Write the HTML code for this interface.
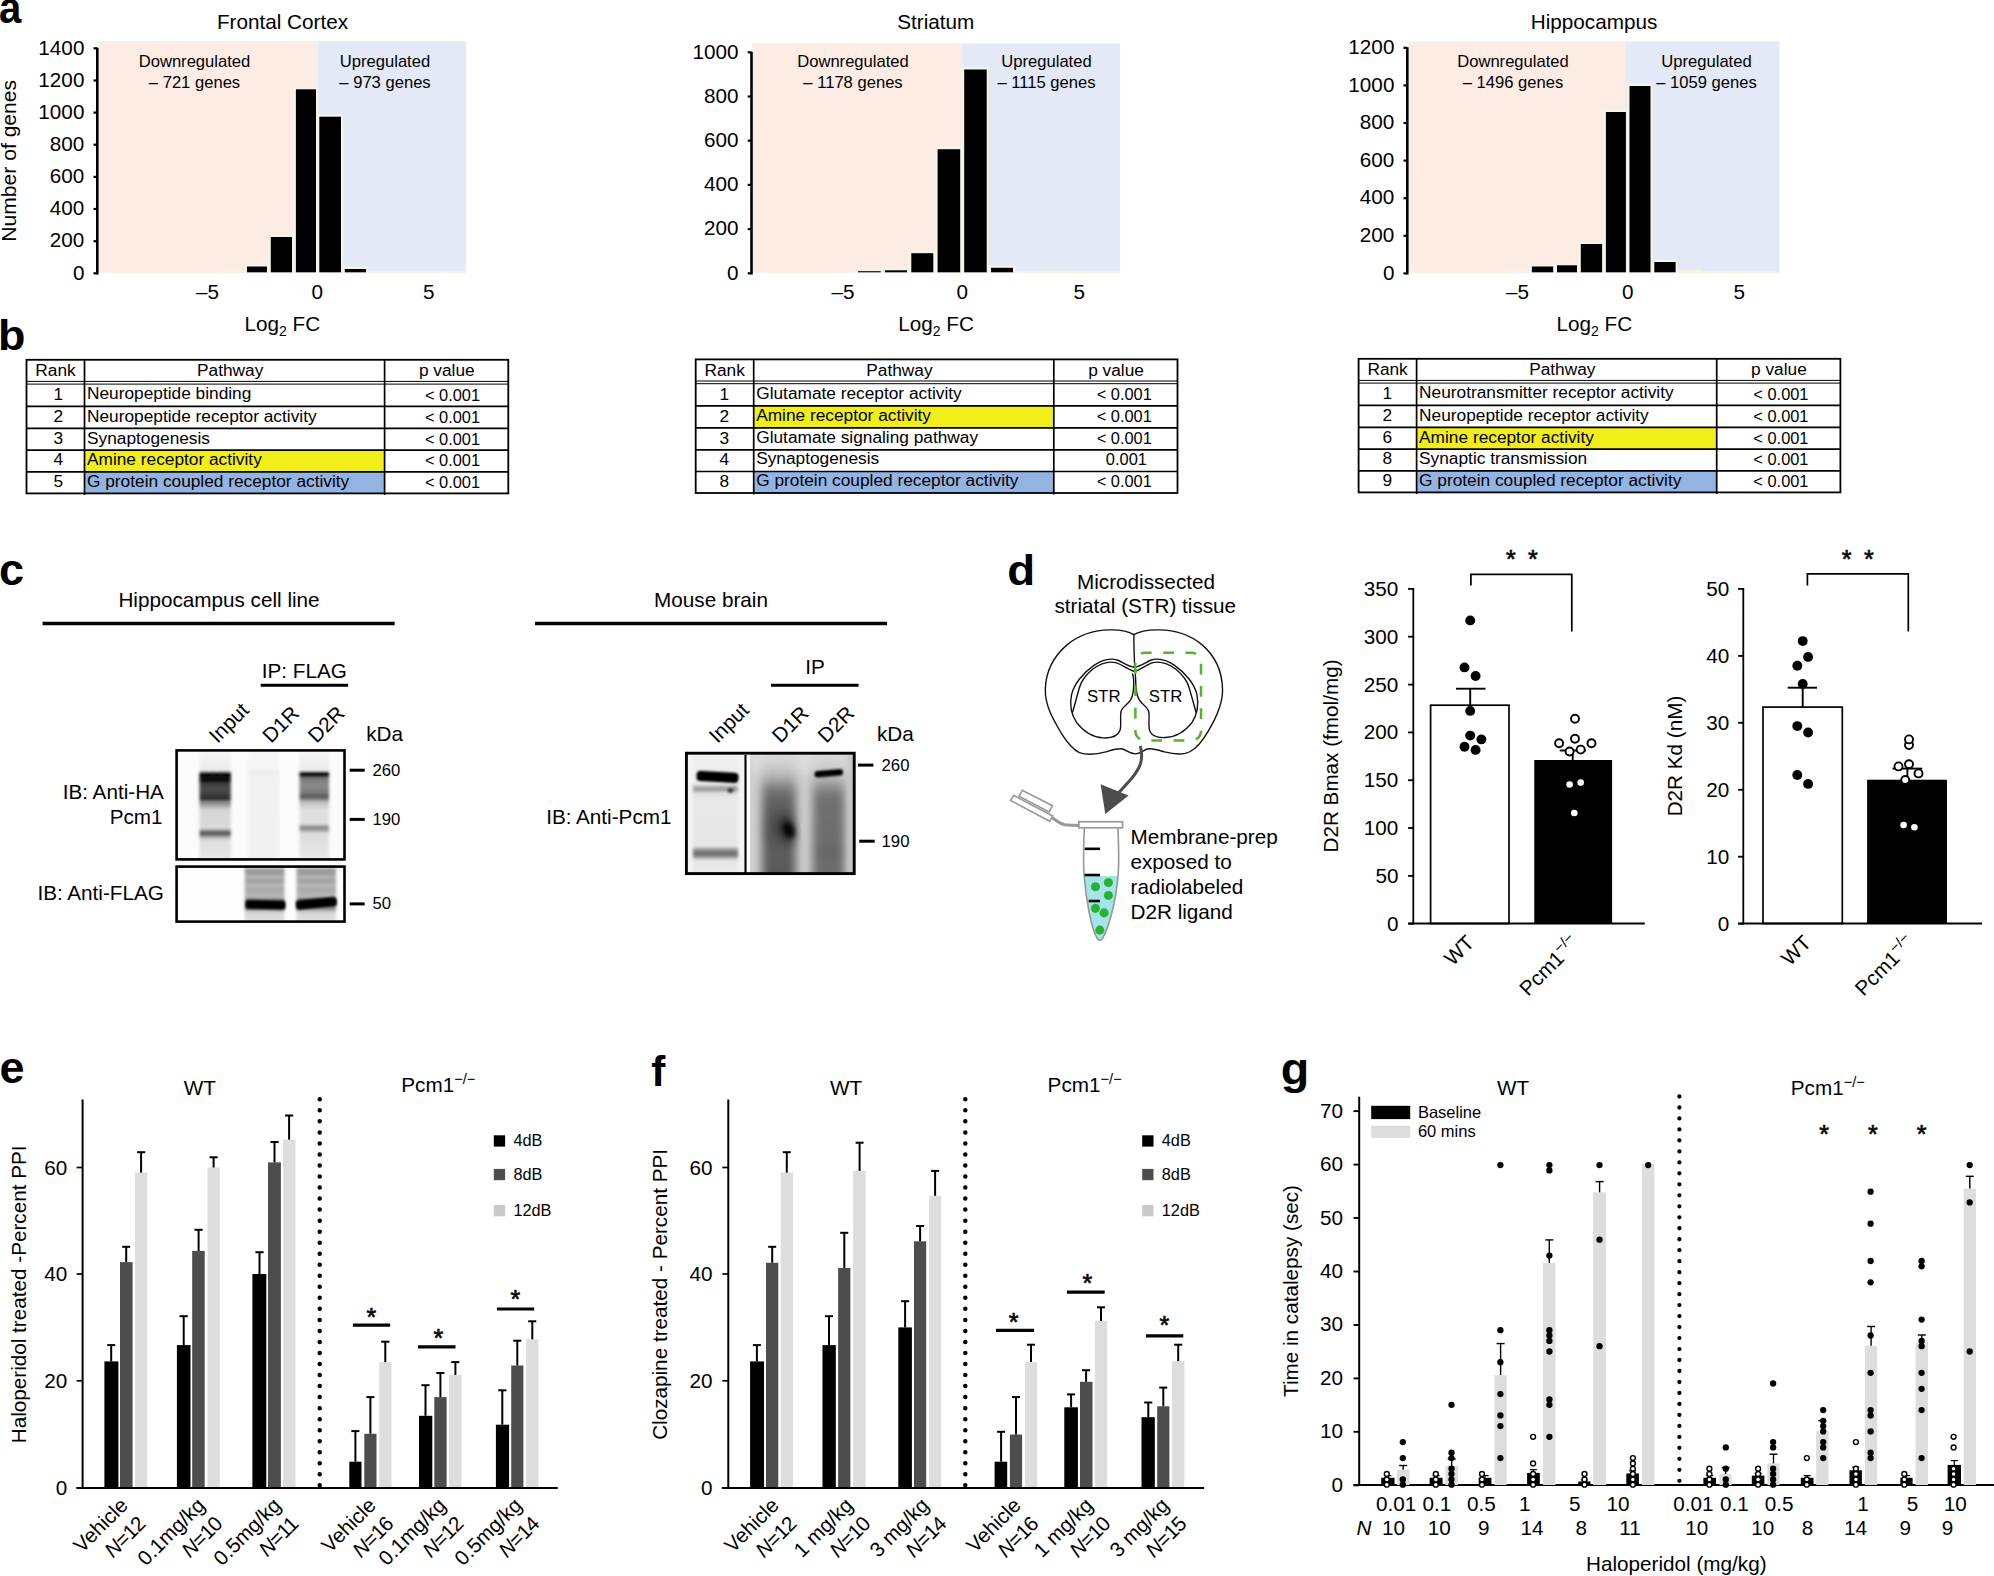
<!DOCTYPE html>
<html><head><meta charset="utf-8"><title>Figure</title>
<style>
html,body{margin:0;padding:0;background:#fff;}
svg{display:block;}
text{font-family:"Liberation Sans",sans-serif;fill:#000;}
</style></head><body>
<svg width="1994" height="1576" viewBox="0 0 1994 1576">
<defs>
<filter id="b1" x="-50%" y="-50%" width="200%" height="200%"><feGaussianBlur stdDeviation="1.2"/></filter>
<filter id="b15" x="-50%" y="-50%" width="200%" height="200%"><feGaussianBlur stdDeviation="1.7 0.9"/></filter>
<filter id="b2" x="-50%" y="-50%" width="200%" height="200%"><feGaussianBlur stdDeviation="2.5"/></filter>
<filter id="b3" x="-50%" y="-50%" width="200%" height="200%"><feGaussianBlur stdDeviation="5"/></filter>
</defs>
<text transform="translate(-1.0,22.8) scale(0.89,1)" font-size="45" font-weight="bold">a</text>
<text transform="translate(-1.9,349.6) scale(1.06,1)" font-size="42.3" font-weight="bold">b</text>
<text transform="translate(-1.1,585.0) scale(1.0,1)" font-size="45" font-weight="bold">c</text>
<text transform="translate(1007.2,585.0) scale(1.08,1)" font-size="42.3" font-weight="bold">d</text>
<text transform="translate(-0.4,1083.0) scale(1.0,1)" font-size="45" font-weight="bold">e</text>
<text transform="translate(651.2,1085.5) scale(1.0,1)" font-size="42.3" font-weight="bold">f</text>
<text transform="translate(1280.7,1083.5) scale(1.06,1)" font-size="44" font-weight="bold">g</text>
<rect x="98.3" y="41.0" width="219.4" height="231.5" fill="#fdece4"/>
<rect x="317.7" y="41.0" width="148.2" height="231.5" fill="#e3e9f7"/>
<rect x="98.3" y="271.3" width="367.6" height="1.9" fill="#f4f4e8"/>
<text x="282.5" y="28.8" font-size="20.7" text-anchor="middle">Frontal Cortex</text>
<line x1="97.3" y1="47.8" x2="97.3" y2="274.5" stroke="#000" stroke-width="2.6"/>
<line x1="93.5" y1="273.3" x2="97.3" y2="273.3" stroke="#000" stroke-width="2.2"/>
<text x="84.4" y="279.5" font-size="20.7" text-anchor="end">0</text>
<line x1="93.5" y1="241.2" x2="97.3" y2="241.2" stroke="#000" stroke-width="2.2"/>
<text x="84.4" y="247.4" font-size="20.7" text-anchor="end">200</text>
<line x1="93.5" y1="209.0" x2="97.3" y2="209.0" stroke="#000" stroke-width="2.2"/>
<text x="84.4" y="215.2" font-size="20.7" text-anchor="end">400</text>
<line x1="93.5" y1="176.9" x2="97.3" y2="176.9" stroke="#000" stroke-width="2.2"/>
<text x="84.4" y="183.1" font-size="20.7" text-anchor="end">600</text>
<line x1="93.5" y1="144.7" x2="97.3" y2="144.7" stroke="#000" stroke-width="2.2"/>
<text x="84.4" y="150.9" font-size="20.7" text-anchor="end">800</text>
<line x1="93.5" y1="112.6" x2="97.3" y2="112.6" stroke="#000" stroke-width="2.2"/>
<text x="84.4" y="118.8" font-size="20.7" text-anchor="end">1000</text>
<line x1="93.5" y1="80.5" x2="97.3" y2="80.5" stroke="#000" stroke-width="2.2"/>
<text x="84.4" y="86.7" font-size="20.7" text-anchor="end">1200</text>
<line x1="93.5" y1="48.3" x2="97.3" y2="48.3" stroke="#000" stroke-width="2.2"/>
<text x="84.4" y="54.5" font-size="20.7" text-anchor="end">1400</text>
<rect x="244.8" y="264.3" width="24.4" height="8.9" fill="#f4f4e8"/>
<rect x="268.6" y="234.8" width="25.6" height="38.4" fill="#f4f4e8"/>
<rect x="293.7" y="87.1" width="24.5" height="186.1" fill="#f4f4e8"/>
<rect x="317.1" y="114.5" width="26.1" height="158.7" fill="#f4f4e8"/>
<rect x="342.6" y="266.8" width="25.6" height="6.4" fill="#f4f4e8"/>
<rect x="247.0" y="266.5" width="20.0" height="5.8" fill="#000"/>
<rect x="270.8" y="237.0" width="21.2" height="35.3" fill="#000"/>
<rect x="295.9" y="89.3" width="20.1" height="183.0" fill="#000"/>
<rect x="319.3" y="116.7" width="21.7" height="155.6" fill="#000"/>
<rect x="344.8" y="269.0" width="21.2" height="3.3" fill="#000"/>
<text x="207.5" y="299.2" font-size="20.7" text-anchor="middle">–5</text>
<text x="317.2" y="299.2" font-size="20.7" text-anchor="middle">0</text>
<text x="428.8" y="299.2" font-size="20.7" text-anchor="middle">5</text>
<text x="244.5" y="330.5" font-size="20.7">Log<tspan font-size="14" dy="5">2</tspan><tspan dy="-5"> FC</tspan></text>
<text x="194.5" y="67.2" font-size="16.6" text-anchor="middle">Downregulated</text>
<text x="194.5" y="87.8" font-size="16.6" text-anchor="middle">– 721 genes</text>
<text x="385.0" y="67.2" font-size="16.6" text-anchor="middle">Upregulated</text>
<text x="385.0" y="87.8" font-size="16.6" text-anchor="middle">– 973 genes</text>
<rect x="752.3" y="43.4" width="209.9" height="229.1" fill="#fdece4"/>
<rect x="962.2" y="43.4" width="157.9" height="229.1" fill="#e3e9f7"/>
<rect x="752.3" y="271.3" width="367.8" height="1.9" fill="#f4f4e8"/>
<text x="935.8" y="28.8" font-size="20.7" text-anchor="middle">Striatum</text>
<line x1="751.5" y1="51.8" x2="751.5" y2="274.5" stroke="#000" stroke-width="2.6"/>
<line x1="747.7" y1="273.3" x2="751.5" y2="273.3" stroke="#000" stroke-width="2.2"/>
<text x="738.6" y="279.5" font-size="20.7" text-anchor="end">0</text>
<line x1="747.7" y1="229.1" x2="751.5" y2="229.1" stroke="#000" stroke-width="2.2"/>
<text x="738.6" y="235.3" font-size="20.7" text-anchor="end">200</text>
<line x1="747.7" y1="184.9" x2="751.5" y2="184.9" stroke="#000" stroke-width="2.2"/>
<text x="738.6" y="191.1" font-size="20.7" text-anchor="end">400</text>
<line x1="747.7" y1="140.7" x2="751.5" y2="140.7" stroke="#000" stroke-width="2.2"/>
<text x="738.6" y="146.9" font-size="20.7" text-anchor="end">600</text>
<line x1="747.7" y1="96.5" x2="751.5" y2="96.5" stroke="#000" stroke-width="2.2"/>
<text x="738.6" y="102.7" font-size="20.7" text-anchor="end">800</text>
<line x1="747.7" y1="52.3" x2="751.5" y2="52.3" stroke="#000" stroke-width="2.2"/>
<text x="738.6" y="58.5" font-size="20.7" text-anchor="end">1000</text>
<rect x="855.8" y="269.0" width="27.1" height="4.2" fill="#f4f4e8"/>
<rect x="882.7" y="268.1" width="26.5" height="5.1" fill="#f4f4e8"/>
<rect x="909.1" y="251.0" width="26.4" height="22.2" fill="#f4f4e8"/>
<rect x="935.4" y="147.0" width="27.0" height="126.2" fill="#f4f4e8"/>
<rect x="962.0" y="67.3" width="26.9" height="205.9" fill="#f4f4e8"/>
<rect x="988.8" y="265.6" width="26.4" height="7.6" fill="#f4f4e8"/>
<rect x="858.0" y="271.2" width="22.7" height="1.1" fill="#000"/>
<rect x="884.9" y="270.3" width="22.1" height="2.0" fill="#000"/>
<rect x="911.3" y="253.2" width="22.0" height="19.1" fill="#000"/>
<rect x="937.6" y="149.2" width="22.6" height="123.1" fill="#000"/>
<rect x="964.2" y="69.5" width="22.5" height="202.8" fill="#000"/>
<rect x="991.0" y="267.8" width="22.0" height="4.5" fill="#000"/>
<text x="843.0" y="299.2" font-size="20.7" text-anchor="middle">–5</text>
<text x="962.2" y="299.2" font-size="20.7" text-anchor="middle">0</text>
<text x="1079.3" y="299.2" font-size="20.7" text-anchor="middle">5</text>
<text x="898.2" y="330.5" font-size="20.7">Log<tspan font-size="14" dy="5">2</tspan><tspan dy="-5"> FC</tspan></text>
<text x="853.0" y="67.2" font-size="16.6" text-anchor="middle">Downregulated</text>
<text x="853.0" y="87.8" font-size="16.6" text-anchor="middle">– 1178 genes</text>
<text x="1046.5" y="67.2" font-size="16.6" text-anchor="middle">Upregulated</text>
<text x="1046.5" y="87.8" font-size="16.6" text-anchor="middle">– 1115 genes</text>
<rect x="1408.3" y="41.4" width="217.1" height="231.1" fill="#fdece4"/>
<rect x="1625.4" y="41.4" width="154.2" height="231.1" fill="#e3e9f7"/>
<rect x="1408.3" y="271.3" width="371.3" height="1.9" fill="#f4f4e8"/>
<text x="1594.0" y="28.8" font-size="20.7" text-anchor="middle">Hippocampus</text>
<line x1="1407.3" y1="47.3" x2="1407.3" y2="274.5" stroke="#000" stroke-width="2.6"/>
<line x1="1403.5" y1="273.4" x2="1407.3" y2="273.4" stroke="#000" stroke-width="2.2"/>
<text x="1394.4" y="279.6" font-size="20.7" text-anchor="end">0</text>
<line x1="1403.5" y1="235.8" x2="1407.3" y2="235.8" stroke="#000" stroke-width="2.2"/>
<text x="1394.4" y="242.0" font-size="20.7" text-anchor="end">200</text>
<line x1="1403.5" y1="198.2" x2="1407.3" y2="198.2" stroke="#000" stroke-width="2.2"/>
<text x="1394.4" y="204.4" font-size="20.7" text-anchor="end">400</text>
<line x1="1403.5" y1="160.6" x2="1407.3" y2="160.6" stroke="#000" stroke-width="2.2"/>
<text x="1394.4" y="166.8" font-size="20.7" text-anchor="end">600</text>
<line x1="1403.5" y1="123.0" x2="1407.3" y2="123.0" stroke="#000" stroke-width="2.2"/>
<text x="1394.4" y="129.2" font-size="20.7" text-anchor="end">800</text>
<line x1="1403.5" y1="85.4" x2="1407.3" y2="85.4" stroke="#000" stroke-width="2.2"/>
<text x="1394.4" y="91.6" font-size="20.7" text-anchor="end">1000</text>
<line x1="1403.5" y1="47.8" x2="1407.3" y2="47.8" stroke="#000" stroke-width="2.2"/>
<text x="1394.4" y="54.0" font-size="20.7" text-anchor="end">1200</text>
<rect x="1529.7" y="264.3" width="25.7" height="8.9" fill="#f4f4e8"/>
<rect x="1554.8" y="263.1" width="24.4" height="10.1" fill="#f4f4e8"/>
<rect x="1578.6" y="241.8" width="25.7" height="31.4" fill="#f4f4e8"/>
<rect x="1603.7" y="109.8" width="24.4" height="163.4" fill="#f4f4e8"/>
<rect x="1627.3" y="83.8" width="25.4" height="189.4" fill="#f4f4e8"/>
<rect x="1652.1" y="259.8" width="25.7" height="13.4" fill="#f4f4e8"/>
<rect x="1531.9" y="266.5" width="21.3" height="5.8" fill="#000"/>
<rect x="1557.0" y="265.3" width="20.0" height="7.0" fill="#000"/>
<rect x="1580.8" y="244.0" width="21.3" height="28.3" fill="#000"/>
<rect x="1605.9" y="112.0" width="20.0" height="160.3" fill="#000"/>
<rect x="1629.5" y="86.0" width="21.0" height="186.3" fill="#000"/>
<rect x="1654.3" y="262.0" width="21.3" height="10.3" fill="#000"/>
<text x="1517.6" y="299.2" font-size="20.7" text-anchor="middle">–5</text>
<text x="1627.7" y="299.2" font-size="20.7" text-anchor="middle">0</text>
<text x="1739.3" y="299.2" font-size="20.7" text-anchor="middle">5</text>
<text x="1556.5" y="330.5" font-size="20.7">Log<tspan font-size="14" dy="5">2</tspan><tspan dy="-5"> FC</tspan></text>
<text x="1513.0" y="67.2" font-size="16.6" text-anchor="middle">Downregulated</text>
<text x="1513.0" y="87.8" font-size="16.6" text-anchor="middle">– 1496 genes</text>
<text x="1706.5" y="67.2" font-size="16.6" text-anchor="middle">Upregulated</text>
<text x="1706.5" y="87.8" font-size="16.6" text-anchor="middle">– 1059 genes</text>
<rect x="218.0" y="270.8" width="26.5" height="2.4" fill="#f4f4e8"/>
<rect x="1041.0" y="270.6" width="26.5" height="2.6" fill="#f4f4e8"/>
<rect x="1504.3" y="270.8" width="23.7" height="2.4" fill="#f4f4e8"/>
<rect x="1678.6" y="269.8" width="23.8" height="3.4" fill="#f4f4e8"/>
<text transform="translate(16.1,160.8) rotate(-90)" font-size="21.1" text-anchor="middle">Number of genes</text>
<rect x="84.5" y="450.2" width="300.1" height="21.7" fill="#f2ee1a"/>
<rect x="84.5" y="471.9" width="300.1" height="21.5" fill="#93b3e3"/>
<rect x="26.5" y="359.8" width="481.8" height="133.6" fill="none" stroke="#000" stroke-width="1.8"/>
<line x1="84.5" y1="359.8" x2="84.5" y2="494.9" stroke="#000" stroke-width="1.7"/>
<line x1="384.6" y1="359.8" x2="384.6" y2="494.9" stroke="#000" stroke-width="1.7"/>
<line x1="26.5" y1="381.4" x2="508.3" y2="381.4" stroke="#000" stroke-width="1.0"/>
<line x1="26.5" y1="384.1" x2="508.3" y2="384.1" stroke="#000" stroke-width="1.0"/>
<line x1="26.5" y1="406.3" x2="508.3" y2="406.3" stroke="#000" stroke-width="1.7"/>
<line x1="26.5" y1="428.3" x2="508.3" y2="428.3" stroke="#000" stroke-width="1.7"/>
<line x1="26.5" y1="450.2" x2="508.3" y2="450.2" stroke="#000" stroke-width="1.7"/>
<line x1="26.5" y1="471.9" x2="508.3" y2="471.9" stroke="#000" stroke-width="1.7"/>
<text x="55.5" y="376.0" font-size="17.3" text-anchor="middle">Rank</text>
<text x="230.2" y="376.0" font-size="17.3" text-anchor="middle">Pathway</text>
<text x="446.8" y="376.0" font-size="17.3" text-anchor="middle">p value</text>
<text x="58.2" y="400.2" font-size="17.3" text-anchor="middle">1</text>
<text x="87.0" y="399.1" font-size="17.3">Neuropeptide binding</text>
<text x="480.1" y="400.6" font-size="16.4" text-anchor="end">&lt; 0.001</text>
<text x="58.2" y="422.2" font-size="17.3" text-anchor="middle">2</text>
<text x="87.0" y="421.6" font-size="17.3">Neuropeptide receptor activity</text>
<text x="480.1" y="422.6" font-size="16.4" text-anchor="end">&lt; 0.001</text>
<text x="58.2" y="444.1" font-size="17.3" text-anchor="middle">3</text>
<text x="87.0" y="443.5" font-size="17.3">Synaptogenesis</text>
<text x="480.1" y="444.5" font-size="16.4" text-anchor="end">&lt; 0.001</text>
<text x="58.2" y="465.3" font-size="17.3" text-anchor="middle">4</text>
<text x="87.0" y="464.7" font-size="17.3">Amine receptor activity</text>
<text x="480.1" y="465.7" font-size="16.4" text-anchor="end">&lt; 0.001</text>
<text x="58.2" y="487.3" font-size="17.3" text-anchor="middle">5</text>
<text x="87.0" y="486.7" font-size="17.3">G protein coupled receptor activity</text>
<text x="480.1" y="487.7" font-size="16.4" text-anchor="end">&lt; 0.001</text>
<rect x="753.7" y="405.9" width="300.1" height="22.0" fill="#f2ee1a"/>
<rect x="753.7" y="471.5" width="300.1" height="21.5" fill="#93b3e3"/>
<rect x="695.7" y="359.4" width="481.8" height="133.6" fill="none" stroke="#000" stroke-width="1.8"/>
<line x1="753.7" y1="359.4" x2="753.7" y2="494.5" stroke="#000" stroke-width="1.7"/>
<line x1="1053.8" y1="359.4" x2="1053.8" y2="494.5" stroke="#000" stroke-width="1.7"/>
<line x1="695.7" y1="381.0" x2="1177.5" y2="381.0" stroke="#000" stroke-width="1.0"/>
<line x1="695.7" y1="383.7" x2="1177.5" y2="383.7" stroke="#000" stroke-width="1.0"/>
<line x1="695.7" y1="405.9" x2="1177.5" y2="405.9" stroke="#000" stroke-width="1.7"/>
<line x1="695.7" y1="427.9" x2="1177.5" y2="427.9" stroke="#000" stroke-width="1.7"/>
<line x1="695.7" y1="449.8" x2="1177.5" y2="449.8" stroke="#000" stroke-width="1.7"/>
<line x1="695.7" y1="471.5" x2="1177.5" y2="471.5" stroke="#000" stroke-width="1.7"/>
<text x="724.7" y="375.6" font-size="17.3" text-anchor="middle">Rank</text>
<text x="899.4" y="375.6" font-size="17.3" text-anchor="middle">Pathway</text>
<text x="1116.0" y="375.6" font-size="17.3" text-anchor="middle">p value</text>
<text x="724.3" y="399.8" font-size="17.3" text-anchor="middle">1</text>
<text x="756.2" y="398.7" font-size="17.3">Glutamate receptor activity</text>
<text x="1151.8" y="400.2" font-size="16.4" text-anchor="end">&lt; 0.001</text>
<text x="724.3" y="421.8" font-size="17.3" text-anchor="middle">2</text>
<text x="756.2" y="421.2" font-size="17.3">Amine receptor activity</text>
<text x="1151.8" y="422.2" font-size="16.4" text-anchor="end">&lt; 0.001</text>
<text x="724.3" y="443.7" font-size="17.3" text-anchor="middle">3</text>
<text x="756.2" y="443.1" font-size="17.3">Glutamate signaling pathway</text>
<text x="1151.8" y="444.1" font-size="16.4" text-anchor="end">&lt; 0.001</text>
<text x="724.3" y="464.9" font-size="17.3" text-anchor="middle">4</text>
<text x="756.2" y="464.3" font-size="17.3">Synaptogenesis</text>
<text x="1146.9" y="465.3" font-size="16.4" text-anchor="end">0.001</text>
<text x="724.3" y="486.9" font-size="17.3" text-anchor="middle">8</text>
<text x="756.2" y="486.3" font-size="17.3">G protein coupled receptor activity</text>
<text x="1151.8" y="487.3" font-size="16.4" text-anchor="end">&lt; 0.001</text>
<rect x="1416.6" y="427.3" width="300.1" height="21.9" fill="#f2ee1a"/>
<rect x="1416.6" y="470.9" width="300.1" height="21.5" fill="#93b3e3"/>
<rect x="1358.6" y="358.8" width="481.8" height="133.6" fill="none" stroke="#000" stroke-width="1.8"/>
<line x1="1416.6" y1="358.8" x2="1416.6" y2="493.9" stroke="#000" stroke-width="1.7"/>
<line x1="1716.7" y1="358.8" x2="1716.7" y2="493.9" stroke="#000" stroke-width="1.7"/>
<line x1="1358.6" y1="380.4" x2="1840.4" y2="380.4" stroke="#000" stroke-width="1.0"/>
<line x1="1358.6" y1="383.1" x2="1840.4" y2="383.1" stroke="#000" stroke-width="1.0"/>
<line x1="1358.6" y1="405.3" x2="1840.4" y2="405.3" stroke="#000" stroke-width="1.7"/>
<line x1="1358.6" y1="427.3" x2="1840.4" y2="427.3" stroke="#000" stroke-width="1.7"/>
<line x1="1358.6" y1="449.2" x2="1840.4" y2="449.2" stroke="#000" stroke-width="1.7"/>
<line x1="1358.6" y1="470.9" x2="1840.4" y2="470.9" stroke="#000" stroke-width="1.7"/>
<text x="1387.6" y="375.0" font-size="17.3" text-anchor="middle">Rank</text>
<text x="1562.3" y="375.0" font-size="17.3" text-anchor="middle">Pathway</text>
<text x="1778.9" y="375.0" font-size="17.3" text-anchor="middle">p value</text>
<text x="1387.4" y="399.2" font-size="17.3" text-anchor="middle">1</text>
<text x="1419.1" y="398.1" font-size="17.3">Neurotransmitter receptor activity</text>
<text x="1808.5" y="399.6" font-size="16.4" text-anchor="end">&lt; 0.001</text>
<text x="1387.4" y="421.2" font-size="17.3" text-anchor="middle">2</text>
<text x="1419.1" y="420.6" font-size="17.3">Neuropeptide receptor activity</text>
<text x="1808.5" y="421.6" font-size="16.4" text-anchor="end">&lt; 0.001</text>
<text x="1387.4" y="443.1" font-size="17.3" text-anchor="middle">6</text>
<text x="1419.1" y="442.5" font-size="17.3">Amine receptor activity</text>
<text x="1808.5" y="443.5" font-size="16.4" text-anchor="end">&lt; 0.001</text>
<text x="1387.4" y="464.3" font-size="17.3" text-anchor="middle">8</text>
<text x="1419.1" y="463.7" font-size="17.3">Synaptic transmission</text>
<text x="1808.5" y="464.7" font-size="16.4" text-anchor="end">&lt; 0.001</text>
<text x="1387.4" y="486.3" font-size="17.3" text-anchor="middle">9</text>
<text x="1419.1" y="485.7" font-size="17.3">G protein coupled receptor activity</text>
<text x="1808.5" y="486.7" font-size="16.4" text-anchor="end">&lt; 0.001</text>
<text x="219.0" y="607.0" font-size="20.7" text-anchor="middle">Hippocampus cell line</text>
<line x1="42.6" y1="623.5" x2="394.7" y2="623.5" stroke="#000" stroke-width="3.4"/>
<text x="304.3" y="678.0" font-size="20.7" text-anchor="middle">IP: FLAG</text>
<line x1="260.7" y1="685.2" x2="348.2" y2="685.2" stroke="#000" stroke-width="3"/>
<text transform="translate(217.5,744.0) rotate(-45)" font-size="20.7">Input</text>
<text transform="translate(271.0,744.0) rotate(-45)" font-size="20.7">D1R</text>
<text transform="translate(316.5,744.0) rotate(-45)" font-size="20.7">D2R</text>
<text x="366.2" y="741.0" font-size="20.7">kDa</text>
<line x1="349.7" y1="770.2" x2="364.7" y2="770.2" stroke="#000" stroke-width="3"/>
<text x="372.4" y="775.7" font-size="16.7">260</text>
<line x1="349.7" y1="819.4" x2="364.7" y2="819.4" stroke="#000" stroke-width="3"/>
<text x="372.4" y="824.9" font-size="16.7">190</text>
<line x1="349.7" y1="903.9" x2="364.7" y2="903.9" stroke="#000" stroke-width="3"/>
<text x="372.4" y="909.4" font-size="16.7">50</text>
<text x="163.9" y="798.6" font-size="20.7" text-anchor="end">IB: Anti-HA</text>
<text x="162.6" y="824.0" font-size="20.7" text-anchor="end">Pcm1</text>
<text x="163.9" y="900.0" font-size="20.7" text-anchor="end">IB: Anti-FLAG</text>
<clipPath id="cb1"><rect x="176" y="750" width="169.6" height="109.4"/></clipPath>
<g clip-path="url(#cb1)">
<rect x="176.0" y="750.0" width="169.6" height="109.4" fill="#fbfbfb"/>
<linearGradient id="lg1" gradientUnits="userSpaceOnUse" x1="0" y1="750" x2="0" y2="859"><stop offset="0.0000" stop-color="#f6f6f6"/><stop offset="0.1872" stop-color="#eaeaea"/><stop offset="0.2046" stop-color="#555"/><stop offset="0.2165" stop-color="#060606"/><stop offset="0.2881" stop-color="#080808"/><stop offset="0.3046" stop-color="#3c3c3c"/><stop offset="0.3578" stop-color="#4c4c4c"/><stop offset="0.4220" stop-color="#383838"/><stop offset="0.4523" stop-color="#262626"/><stop offset="0.4679" stop-color="#777"/><stop offset="0.5138" stop-color="#aaa"/><stop offset="0.5505" stop-color="#d6d6d6"/><stop offset="0.7156" stop-color="#dadada"/><stop offset="0.7367" stop-color="#999"/><stop offset="0.7523" stop-color="#5c5c5c"/><stop offset="0.7798" stop-color="#686868"/><stop offset="0.8028" stop-color="#bbb"/><stop offset="0.8349" stop-color="#dedede"/><stop offset="1.0000" stop-color="#e8e8e8"/></linearGradient>
<rect x="199.5" y="744.0" width="31.3" height="121.0" fill="url(#lg1)" filter="url(#b15)"/>
<linearGradient id="lg2" gradientUnits="userSpaceOnUse" x1="0" y1="750" x2="0" y2="859"><stop offset="0.0000" stop-color="#f8f8f8"/><stop offset="0.1835" stop-color="#f4f4f4"/><stop offset="0.2018" stop-color="#e4e4e4"/><stop offset="0.2202" stop-color="#f2f2f2"/><stop offset="1.0000" stop-color="#f1f1f1"/></linearGradient>
<rect x="248.0" y="744.0" width="31.0" height="121.0" fill="url(#lg2)" filter="url(#b15)"/>
<linearGradient id="lg3" gradientUnits="userSpaceOnUse" x1="0" y1="750" x2="0" y2="859"><stop offset="0.0000" stop-color="#f6f6f6"/><stop offset="0.1890" stop-color="#eaeaea"/><stop offset="0.2046" stop-color="#222"/><stop offset="0.2147" stop-color="#0c0c0c"/><stop offset="0.2385" stop-color="#1c1c1c"/><stop offset="0.2569" stop-color="#777"/><stop offset="0.3211" stop-color="#8a8a8a"/><stop offset="0.3945" stop-color="#7a7a7a"/><stop offset="0.4266" stop-color="#565656"/><stop offset="0.4495" stop-color="#7c7c7c"/><stop offset="0.4771" stop-color="#bcbcbc"/><stop offset="0.5505" stop-color="#e0e0e0"/><stop offset="0.6789" stop-color="#dedede"/><stop offset="0.7000" stop-color="#9a9a9a"/><stop offset="0.7183" stop-color="#868686"/><stop offset="0.7385" stop-color="#aaa"/><stop offset="0.7661" stop-color="#dcdcdc"/><stop offset="1.0000" stop-color="#e8e8e8"/></linearGradient>
<rect x="299.5" y="744.0" width="29.5" height="121.0" fill="url(#lg3)" filter="url(#b15)"/>
</g>
<rect x="176.6" y="750.4" width="167.9" height="109" fill="none" stroke="#000" stroke-width="2.6"/>
<clipPath id="cb2"><rect x="176" y="866" width="169.6" height="57"/></clipPath>
<g clip-path="url(#cb2)">
<rect x="176.0" y="866.0" width="169.6" height="57.0" fill="#fdfdfd"/>
<linearGradient id="lg4" gradientUnits="userSpaceOnUse" x1="0" y1="866" x2="0" y2="923"><stop offset="0.0000" stop-color="#eee"/><stop offset="0.0526" stop-color="#acacac"/><stop offset="0.0877" stop-color="#949494"/><stop offset="0.1404" stop-color="#a0a0a0"/><stop offset="0.2018" stop-color="#b6b6b6"/><stop offset="0.2456" stop-color="#a0a0a0"/><stop offset="0.2982" stop-color="#a8a8a8"/><stop offset="0.3509" stop-color="#bababa"/><stop offset="0.4035" stop-color="#a8a8a8"/><stop offset="0.4737" stop-color="#b2b2b2"/><stop offset="0.5439" stop-color="#b8b8b8"/><stop offset="0.5789" stop-color="#888"/><stop offset="0.7544" stop-color="#888"/><stop offset="0.8070" stop-color="#d4d4d4"/><stop offset="1.0000" stop-color="#e4e4e4"/></linearGradient>
<rect x="244.8" y="860.0" width="39.7" height="69.0" fill="url(#lg4)" filter="url(#b15)"/>
<linearGradient id="lg5" gradientUnits="userSpaceOnUse" x1="0" y1="866" x2="0" y2="923"><stop offset="0.0000" stop-color="#eee"/><stop offset="0.0526" stop-color="#acacac"/><stop offset="0.0877" stop-color="#949494"/><stop offset="0.1404" stop-color="#a0a0a0"/><stop offset="0.2018" stop-color="#b6b6b6"/><stop offset="0.2456" stop-color="#a0a0a0"/><stop offset="0.2982" stop-color="#a8a8a8"/><stop offset="0.3509" stop-color="#bababa"/><stop offset="0.4035" stop-color="#a8a8a8"/><stop offset="0.4737" stop-color="#b2b2b2"/><stop offset="0.5439" stop-color="#b8b8b8"/><stop offset="0.5789" stop-color="#888"/><stop offset="0.7544" stop-color="#888"/><stop offset="0.8070" stop-color="#d4d4d4"/><stop offset="1.0000" stop-color="#e4e4e4"/></linearGradient>
<rect x="296.5" y="860.0" width="39.5" height="69.0" fill="url(#lg5)" filter="url(#b15)"/>
<rect x="245.5" y="900.2" width="40" height="9" rx="3" fill="#050505" filter="url(#b1)" transform="rotate(1.2 265 905)"/>
<rect x="295.8" y="898.6" width="41" height="9.4" rx="3.5" fill="#050505" filter="url(#b1)" transform="rotate(-5.5 316 903)"/>
</g>
<rect x="176.6" y="866.6" width="167.9" height="55" fill="none" stroke="#000" stroke-width="2.6"/>
<text x="711.0" y="607.0" font-size="20.7" text-anchor="middle">Mouse brain</text>
<line x1="535.0" y1="623.5" x2="887.0" y2="623.5" stroke="#000" stroke-width="3.4"/>
<text x="815.0" y="674.2" font-size="20.7" text-anchor="middle">IP</text>
<line x1="771.0" y1="685.2" x2="858.6" y2="685.2" stroke="#000" stroke-width="3"/>
<text transform="translate(717.5,744.0) rotate(-45)" font-size="20.7">Input</text>
<text transform="translate(780.5,744.0) rotate(-45)" font-size="20.7">D1R</text>
<text transform="translate(826.3,744.0) rotate(-45)" font-size="20.7">D2R</text>
<text x="876.9" y="741.0" font-size="20.7">kDa</text>
<line x1="857.9" y1="765.1" x2="873.4" y2="765.1" stroke="#000" stroke-width="3"/>
<text x="881.6" y="770.7" font-size="16.7">260</text>
<line x1="859.2" y1="841.2" x2="874.7" y2="841.2" stroke="#000" stroke-width="3"/>
<text x="881.6" y="846.8" font-size="16.7">190</text>
<text x="671.5" y="824.0" font-size="20.7" text-anchor="end">IB: Anti-Pcm1</text>
<clipPath id="cb3"><rect x="685.4" y="752.5" width="169.8" height="122.2"/></clipPath>
<g clip-path="url(#cb3)">
<rect x="685.4" y="752.5" width="59.6" height="122.2" fill="#f3f3f3"/>
<rect x="746.8" y="752.5" width="3.2" height="122.2" fill="#fff"/>
<linearGradient id="lg6" gradientUnits="userSpaceOnUse" x1="0" y1="753" x2="0" y2="875"><stop offset="0.0000" stop-color="#f0f0f0"/><stop offset="0.2541" stop-color="#ececec"/><stop offset="0.2787" stop-color="#aaa"/><stop offset="0.3033" stop-color="#999"/><stop offset="0.3279" stop-color="#dedede"/><stop offset="0.3852" stop-color="#e9e9e9"/><stop offset="0.7623" stop-color="#e6e6e6"/><stop offset="0.7951" stop-color="#909090"/><stop offset="0.8238" stop-color="#6c6c6c"/><stop offset="0.8484" stop-color="#8a8a8a"/><stop offset="0.8770" stop-color="#e4e4e4"/><stop offset="1.0000" stop-color="#ececec"/></linearGradient>
<rect x="693.0" y="747.0" width="45.0" height="134.0" fill="url(#lg6)" filter="url(#b15)"/>
<rect x="696.5" y="771.8" width="42" height="10.2" rx="4" fill="#000" filter="url(#b1)" transform="rotate(3.2 717 777)"/>
<ellipse cx="730.5" cy="790.5" rx="3" ry="2.4" fill="#444" filter="url(#b1)"/>
</g>
<clipPath id="cb4"><rect x="750" y="752.5" width="105.2" height="122.2"/></clipPath>
<g clip-path="url(#cb4)">
<rect x="750.0" y="752.5" width="105.3" height="122.2" fill="#cfcfcf"/>
<rect x="750.0" y="752.0" width="106.0" height="20.0" fill="#dedede" opacity="0.9" filter="url(#b3)"/>
<linearGradient id="lg7" gradientUnits="userSpaceOnUse" x1="0" y1="765" x2="0" y2="875"><stop offset="0.0000" stop-color="#d0d0d0"/><stop offset="0.1182" stop-color="#b0b0b0"/><stop offset="0.2182" stop-color="#747474"/><stop offset="0.3636" stop-color="#5e5e5e"/><stop offset="0.5909" stop-color="#505050"/><stop offset="0.8182" stop-color="#5e5e5e"/><stop offset="1.0000" stop-color="#585858"/></linearGradient>
<rect x="762.0" y="759.0" width="34.0" height="122.0" fill="url(#lg7)" filter="url(#b3)"/>
<ellipse cx="786" cy="829" rx="7" ry="13" fill="#222" filter="url(#b3)" transform="rotate(-15 786 828)"/>
<ellipse cx="788.5" cy="830" rx="4.5" ry="7.5" fill="#000" filter="url(#b2)" transform="rotate(-20 789 829)"/>
<linearGradient id="lg8" gradientUnits="userSpaceOnUse" x1="0" y1="765" x2="0" y2="875"><stop offset="0.0000" stop-color="#d0d0d0"/><stop offset="0.1182" stop-color="#b8b8b8"/><stop offset="0.2273" stop-color="#808080"/><stop offset="0.3182" stop-color="#707070"/><stop offset="0.7727" stop-color="#6c6c6c"/><stop offset="0.8045" stop-color="#585858"/><stop offset="0.8364" stop-color="#6e6e6e"/><stop offset="1.0000" stop-color="#6a6a6a"/></linearGradient>
<rect x="812.5" y="759.0" width="32.5" height="122.0" fill="url(#lg8)" filter="url(#b3)"/>
<rect x="814.5" y="770" width="28.5" height="6.6" rx="3" fill="#000" filter="url(#b1)" transform="rotate(-5 829 773)"/>
<rect x="848.0" y="754.0" width="10.0" height="120.0" fill="#c4c4c4" opacity="0.9" filter="url(#b2)"/>
</g>
<line x1="745.5" y1="755.0" x2="745.5" y2="874.7" stroke="#000" stroke-width="2.1"/>
<rect x="686.4" y="753.2" width="167.8" height="120.4" fill="none" stroke="#000" stroke-width="2.9"/>
<text x="1146.0" y="588.5" font-size="20.7" text-anchor="middle">Microdissected</text>
<text x="1145.3" y="613.3" font-size="20.7" text-anchor="middle">striatal (STR) tissue</text>
<g transform="translate(1030,620) scale(0.13325)" fill="none" stroke="#111" stroke-width="10.5" stroke-linejoin="round" stroke-linecap="round">
<path d="M780,110 C740,85 680,72 600,74 C480,76 370,110 280,185 C180,270 118,390 115,520 C112,640 170,740 235,850 C280,920 320,970 370,995 C420,1012 500,1008 570,990 C620,975 660,960 695,968 C725,978 745,1002 790,1005 C830,1002 850,978 880,968 C915,960 960,975 1010,990 C1080,1008 1160,1012 1205,985 C1260,955 1300,900 1340,830 C1400,730 1448,630 1445,520 C1442,390 1390,270 1290,185 C1200,110 1090,76 970,74 C890,72 820,85 780,110 Z"/>
<path d="M780,110 C778,200 784,280 785,355"/>
<path d="M782,355 C740,350 700,320 660,302 C600,282 540,300 480,340 C400,395 330,480 312,560 C295,640 310,710 350,770 C400,835 470,880 550,885 C610,888 660,870 675,830 C688,790 675,740 682,690 C690,650 730,640 755,600 C775,565 780,500 778,450 C777,430 772,415 770,405"/>
<path d="M782,385 C740,375 700,340 650,322 C590,305 530,325 470,370 C420,410 385,460 370,510 C350,580 335,640 320,690"/>
<path d="M782,355 C825,350 865,320 905,302 C965,282 1025,300 1085,340 C1165,395 1235,480 1253,560 C1268,640 1255,710 1215,770 C1165,835 1095,878 1015,882 C955,885 910,868 898,830 C886,790 898,740 892,690 C884,650 845,640 820,600 C800,565 793,500 793,450 C793,430 790,415 790,405"/>
<path d="M785,385 C825,375 865,340 915,322 C975,305 1035,325 1095,370 C1145,410 1180,460 1195,510 C1215,580 1232,640 1245,690"/>
</g>
<text x="1103.8" y="701.6" font-size="16.8" text-anchor="middle">STR</text>
<text x="1165.6" y="701.6" font-size="16.8" text-anchor="middle">STR</text>
<rect x="1135.4" y="652.8" width="65.6" height="87.7" rx="9.5" ry="9.5" fill="none" stroke="#52b52c" stroke-width="2.5" stroke-dasharray="10.7 11.6" stroke-dashoffset="4"/>
<path d="M1140.3,746 C1144,760 1140,768 1132,778 C1126,785 1120,791 1115,797" fill="none" stroke="#4d4d4d" stroke-width="3"/>
<polygon points="1100.6,784.2 1128.6,795.6 1105.3,813.9" fill="#4d4d4d"/>
<g transform="translate(1000,780) scale(0.10787)">
<path d="M784,890 L1092,890 C1075,1120 1005,1380 950,1470 C938,1492 912,1492 900,1470 C850,1380 795,1120 784,890 Z" fill="#a5e4ea"/>
<path d="M782,445 C775,600 770,750 780,880 C795,1120 850,1380 900,1468 C912,1492 938,1492 950,1468 C1005,1380 1078,1120 1095,880 C1105,750 1100,600 1093,445" fill="none" stroke="#999" stroke-width="15"/>
<rect x="731" y="387" width="405" height="56" fill="#fff" stroke="#999" stroke-width="16"/>
<path d="M735,422 C690,422 640,420 600,415 C555,405 520,375 478,345" fill="none" stroke="#999" stroke-width="28"/>
<polygon points="98,190 126,142 488,333 461,383" fill="#fff" stroke="#999" stroke-width="15"/>
<polygon points="176,150 207,96 486,238 456,296" fill="#fff" stroke="#999" stroke-width="15"/>
<line x1="785" y1="638" x2="927" y2="638" stroke="#000" stroke-width="24"/>
<line x1="785" y1="881" x2="927" y2="881" stroke="#000" stroke-width="24"/>
<line x1="822" y1="1122" x2="927" y2="1122" stroke="#000" stroke-width="24"/>
<circle cx="885" cy="990" r="42" fill="#27b22f"/>
<circle cx="1005" cy="950" r="42" fill="#27b22f"/>
<circle cx="1005" cy="1070" r="42" fill="#27b22f"/>
<circle cx="885" cy="1190" r="42" fill="#27b22f"/>
<circle cx="965" cy="1232" r="42" fill="#27b22f"/>
<circle cx="925" cy="1392" r="42" fill="#27b22f"/>
</g>
<text x="1130.5" y="843.8" font-size="20.7">Membrane-prep</text>
<text x="1130.5" y="868.7" font-size="20.7">exposed to</text>
<text x="1130.5" y="893.6" font-size="20.7">radiolabeled</text>
<text x="1130.5" y="918.5" font-size="20.7">D2R ligand</text>
<rect x="1430.6" y="705.2" width="78.4" height="218.3" fill="#fff" stroke="#000" stroke-width="1.7"/>
<rect x="1534.3" y="760.0" width="77.8" height="163.5" fill="#000"/>
<line x1="1413.3" y1="588.0" x2="1413.3" y2="924.4" stroke="#000" stroke-width="1.8"/>
<line x1="1408.3" y1="923.5" x2="1644.8" y2="923.5" stroke="#000" stroke-width="1.8"/>
<line x1="1408.1" y1="923.7" x2="1413.3" y2="923.7" stroke="#000" stroke-width="1.85"/>
<text x="1398.4" y="930.7" font-size="20.7" text-anchor="end">0</text>
<line x1="1408.1" y1="875.9" x2="1413.3" y2="875.9" stroke="#000" stroke-width="1.85"/>
<text x="1398.4" y="882.9" font-size="20.7" text-anchor="end">50</text>
<line x1="1408.1" y1="828.0" x2="1413.3" y2="828.0" stroke="#000" stroke-width="1.85"/>
<text x="1398.4" y="835.0" font-size="20.7" text-anchor="end">100</text>
<line x1="1408.1" y1="780.2" x2="1413.3" y2="780.2" stroke="#000" stroke-width="1.85"/>
<text x="1398.4" y="787.2" font-size="20.7" text-anchor="end">150</text>
<line x1="1408.1" y1="732.4" x2="1413.3" y2="732.4" stroke="#000" stroke-width="1.85"/>
<text x="1398.4" y="739.4" font-size="20.7" text-anchor="end">200</text>
<line x1="1408.1" y1="684.6" x2="1413.3" y2="684.6" stroke="#000" stroke-width="1.85"/>
<text x="1398.4" y="691.6" font-size="20.7" text-anchor="end">250</text>
<line x1="1408.1" y1="636.7" x2="1413.3" y2="636.7" stroke="#000" stroke-width="1.85"/>
<text x="1398.4" y="643.7" font-size="20.7" text-anchor="end">300</text>
<line x1="1408.1" y1="588.9" x2="1413.3" y2="588.9" stroke="#000" stroke-width="1.85"/>
<text x="1398.4" y="595.9" font-size="20.7" text-anchor="end">350</text>
<text transform="translate(1338.0,756.0) rotate(-90)" font-size="20.7" text-anchor="middle">D2R Bmax (fmol/mg)</text>
<line x1="1470.2" y1="688.7" x2="1470.2" y2="705.0" stroke="#000" stroke-width="1.9"/>
<line x1="1456.0" y1="688.7" x2="1485.5" y2="688.7" stroke="#000" stroke-width="1.9"/>
<line x1="1572.7" y1="750.5" x2="1572.7" y2="760.0" stroke="#000" stroke-width="1.9"/>
<line x1="1559.7" y1="750.5" x2="1586.0" y2="750.5" stroke="#000" stroke-width="1.9"/>
<circle cx="1470.2" cy="620.4" r="4.95" fill="#000"/>
<circle cx="1464.5" cy="667.4" r="4.95" fill="#000"/>
<circle cx="1475.6" cy="676.0" r="4.95" fill="#000"/>
<circle cx="1470.2" cy="710.9" r="4.95" fill="#000"/>
<circle cx="1470.2" cy="735.6" r="4.95" fill="#000"/>
<circle cx="1481.4" cy="739.4" r="4.95" fill="#000"/>
<circle cx="1464.5" cy="746.7" r="4.95" fill="#000"/>
<circle cx="1475.6" cy="749.9" r="4.95" fill="#000"/>
<circle cx="1575.0" cy="718.8" r="4.0" fill="#fff" stroke="#000" stroke-width="1.9"/>
<circle cx="1559.1" cy="743.2" r="4.0" fill="#fff" stroke="#000" stroke-width="1.9"/>
<circle cx="1575.0" cy="738.8" r="4.0" fill="#fff" stroke="#000" stroke-width="1.9"/>
<circle cx="1591.5" cy="743.2" r="4.0" fill="#fff" stroke="#000" stroke-width="1.9"/>
<circle cx="1569.6" cy="751.5" r="4.0" fill="#fff" stroke="#000" stroke-width="1.9"/>
<circle cx="1580.7" cy="749.6" r="4.0" fill="#fff" stroke="#000" stroke-width="1.9"/>
<circle cx="1569.6" cy="784.5" r="3.3" fill="#fff"/>
<circle cx="1580.7" cy="782.6" r="3.3" fill="#fff"/>
<circle cx="1574.3" cy="813.0" r="3.3" fill="#fff"/>
<polyline points="1470.9,585.5 1470.9,574.4 1571.8,574.4 1571.8,631.5" fill="none" stroke="#000" stroke-width="1.7"/>
<text x="1510.9" y="567.6" font-size="25" text-anchor="middle" stroke="#111" stroke-width="0.7">*</text>
<text x="1532.9" y="567.6" font-size="25" text-anchor="middle" stroke="#111" stroke-width="0.7">*</text>
<text transform="translate(1475.5,944.0) rotate(-45)" font-size="20.7" text-anchor="end">WT</text>
<text transform="translate(1580.5,944.5) rotate(-45)" font-size="20.7" text-anchor="end">Pcm1<tspan font-size="14.7" dy="-8.3">−/−</tspan></text>
<rect x="1763.0" y="707.1" width="79.3" height="216.4" fill="#fff" stroke="#000" stroke-width="1.7"/>
<rect x="1867.1" y="779.7" width="79.9" height="143.8" fill="#000"/>
<line x1="1743.3" y1="588.0" x2="1743.3" y2="924.4" stroke="#000" stroke-width="1.8"/>
<line x1="1738.3" y1="923.5" x2="1982.0" y2="923.5" stroke="#000" stroke-width="1.8"/>
<line x1="1738.1" y1="923.7" x2="1743.3" y2="923.7" stroke="#000" stroke-width="1.85"/>
<text x="1729.2" y="930.7" font-size="20.7" text-anchor="end">0</text>
<line x1="1738.1" y1="856.7" x2="1743.3" y2="856.7" stroke="#000" stroke-width="1.85"/>
<text x="1729.2" y="863.7" font-size="20.7" text-anchor="end">10</text>
<line x1="1738.1" y1="789.8" x2="1743.3" y2="789.8" stroke="#000" stroke-width="1.85"/>
<text x="1729.2" y="796.8" font-size="20.7" text-anchor="end">20</text>
<line x1="1738.1" y1="722.8" x2="1743.3" y2="722.8" stroke="#000" stroke-width="1.85"/>
<text x="1729.2" y="729.8" font-size="20.7" text-anchor="end">30</text>
<line x1="1738.1" y1="655.9" x2="1743.3" y2="655.9" stroke="#000" stroke-width="1.85"/>
<text x="1729.2" y="662.9" font-size="20.7" text-anchor="end">40</text>
<line x1="1738.1" y1="588.9" x2="1743.3" y2="588.9" stroke="#000" stroke-width="1.85"/>
<text x="1729.2" y="595.9" font-size="20.7" text-anchor="end">50</text>
<text transform="translate(1682.0,756.0) rotate(-90)" font-size="20.7" text-anchor="middle">D2R Kd (nM)</text>
<line x1="1802.7" y1="687.7" x2="1802.7" y2="707.0" stroke="#000" stroke-width="1.9"/>
<line x1="1787.7" y1="687.7" x2="1817.0" y2="687.7" stroke="#000" stroke-width="1.9"/>
<line x1="1907.4" y1="768.6" x2="1907.4" y2="780.0" stroke="#000" stroke-width="1.9"/>
<line x1="1892.5" y1="768.6" x2="1922.3" y2="768.6" stroke="#000" stroke-width="1.9"/>
<circle cx="1802.7" cy="641.1" r="4.95" fill="#000"/>
<circle cx="1808.1" cy="656.9" r="4.95" fill="#000"/>
<circle cx="1797.3" cy="665.8" r="4.95" fill="#000"/>
<circle cx="1802.7" cy="683.9" r="4.95" fill="#000"/>
<circle cx="1797.3" cy="726.1" r="4.95" fill="#000"/>
<circle cx="1808.1" cy="732.5" r="4.95" fill="#000"/>
<circle cx="1797.3" cy="775.0" r="4.95" fill="#000"/>
<circle cx="1808.1" cy="783.9" r="4.95" fill="#000"/>
<circle cx="1909.0" cy="745.1" r="4.0" fill="#fff" stroke="#000" stroke-width="1.9"/>
<circle cx="1909.0" cy="739.4" r="4.0" fill="#fff" stroke="#000" stroke-width="1.9"/>
<circle cx="1898.5" cy="766.4" r="4.0" fill="#fff" stroke="#000" stroke-width="1.9"/>
<circle cx="1909.0" cy="764.2" r="4.0" fill="#fff" stroke="#000" stroke-width="1.9"/>
<circle cx="1918.5" cy="773.4" r="4.0" fill="#fff" stroke="#000" stroke-width="1.9"/>
<circle cx="1905.2" cy="780.0" r="4.0" fill="#fff" stroke="#000" stroke-width="1.9"/>
<circle cx="1903.6" cy="825.1" r="3.3" fill="#fff"/>
<circle cx="1914.4" cy="827.3" r="3.3" fill="#fff"/>
<polyline points="1807.4,585.5 1807.4,573.8 1908.3,573.8 1908.3,631.5" fill="none" stroke="#000" stroke-width="1.7"/>
<text x="1846.5" y="567.6" font-size="25" text-anchor="middle" stroke="#111" stroke-width="0.7">*</text>
<text x="1868.8" y="567.6" font-size="25" text-anchor="middle" stroke="#111" stroke-width="0.7">*</text>
<text transform="translate(1812.5,944.0) rotate(-45)" font-size="20.7" text-anchor="end">WT</text>
<text transform="translate(1916.0,944.5) rotate(-45)" font-size="20.7" text-anchor="end">Pcm1<tspan font-size="14.7" dy="-8.3">−/−</tspan></text>
<rect x="104.4" y="1361.4" width="14.0" height="126.5" fill="#000"/>
<line x1="111.2" y1="1345.1" x2="111.2" y2="1361.4" stroke="#000" stroke-width="2.0"/>
<line x1="107.2" y1="1345.1" x2="115.2" y2="1345.1" stroke="#000" stroke-width="2.0"/>
<rect x="120.0" y="1262.1" width="12.6" height="225.8" fill="#4d4d4d"/>
<line x1="126.2" y1="1246.8" x2="126.2" y2="1262.1" stroke="#000" stroke-width="2.0"/>
<line x1="122.2" y1="1246.8" x2="130.2" y2="1246.8" stroke="#000" stroke-width="2.0"/>
<rect x="135.0" y="1172.6" width="12.3" height="315.3" fill="#dddddd"/>
<line x1="141.1" y1="1152.2" x2="141.1" y2="1172.6" stroke="#000" stroke-width="2.0"/>
<line x1="137.0" y1="1152.2" x2="145.2" y2="1152.2" stroke="#000" stroke-width="2.0"/>
<rect x="176.9" y="1345.1" width="13.6" height="142.8" fill="#000"/>
<line x1="183.7" y1="1316.2" x2="183.7" y2="1345.1" stroke="#000" stroke-width="2.0"/>
<line x1="179.6" y1="1316.2" x2="187.8" y2="1316.2" stroke="#000" stroke-width="2.0"/>
<rect x="192.2" y="1250.9" width="12.5" height="237.0" fill="#4d4d4d"/>
<line x1="198.6" y1="1229.8" x2="198.6" y2="1250.9" stroke="#000" stroke-width="2.0"/>
<line x1="194.5" y1="1229.8" x2="202.7" y2="1229.8" stroke="#000" stroke-width="2.0"/>
<rect x="207.5" y="1167.5" width="12.2" height="320.4" fill="#dddddd"/>
<line x1="213.6" y1="1157.3" x2="213.6" y2="1167.5" stroke="#000" stroke-width="2.0"/>
<line x1="209.5" y1="1157.3" x2="217.7" y2="1157.3" stroke="#000" stroke-width="2.0"/>
<rect x="252.4" y="1274.0" width="13.9" height="213.9" fill="#000"/>
<line x1="259.5" y1="1252.2" x2="259.5" y2="1274.0" stroke="#000" stroke-width="2.0"/>
<line x1="255.4" y1="1252.2" x2="263.6" y2="1252.2" stroke="#000" stroke-width="2.0"/>
<rect x="268.0" y="1162.4" width="12.9" height="325.5" fill="#4d4d4d"/>
<line x1="274.5" y1="1142.0" x2="274.5" y2="1162.4" stroke="#000" stroke-width="2.0"/>
<line x1="270.4" y1="1142.0" x2="278.6" y2="1142.0" stroke="#000" stroke-width="2.0"/>
<rect x="283.0" y="1139.6" width="12.5" height="348.3" fill="#dddddd"/>
<line x1="289.1" y1="1115.5" x2="289.1" y2="1139.6" stroke="#000" stroke-width="2.0"/>
<line x1="285.1" y1="1115.5" x2="293.2" y2="1115.5" stroke="#000" stroke-width="2.0"/>
<rect x="349.3" y="1461.7" width="12.2" height="26.2" fill="#000"/>
<line x1="355.4" y1="1431.1" x2="355.4" y2="1461.7" stroke="#000" stroke-width="2.0"/>
<line x1="351.3" y1="1431.1" x2="359.4" y2="1431.1" stroke="#000" stroke-width="2.0"/>
<rect x="364.3" y="1433.8" width="12.2" height="54.1" fill="#4d4d4d"/>
<line x1="370.4" y1="1397.1" x2="370.4" y2="1433.8" stroke="#000" stroke-width="2.0"/>
<line x1="366.3" y1="1397.1" x2="374.4" y2="1397.1" stroke="#000" stroke-width="2.0"/>
<rect x="379.2" y="1362.1" width="12.3" height="125.8" fill="#dddddd"/>
<line x1="385.3" y1="1341.7" x2="385.3" y2="1362.1" stroke="#000" stroke-width="2.0"/>
<line x1="381.2" y1="1341.7" x2="389.4" y2="1341.7" stroke="#000" stroke-width="2.0"/>
<rect x="419.0" y="1415.8" width="13.3" height="72.1" fill="#000"/>
<line x1="425.5" y1="1385.2" x2="425.5" y2="1415.8" stroke="#000" stroke-width="2.0"/>
<line x1="421.4" y1="1385.2" x2="429.6" y2="1385.2" stroke="#000" stroke-width="2.0"/>
<rect x="434.3" y="1397.1" width="12.3" height="90.8" fill="#4d4d4d"/>
<line x1="440.4" y1="1373.0" x2="440.4" y2="1397.1" stroke="#000" stroke-width="2.0"/>
<line x1="436.3" y1="1373.0" x2="444.4" y2="1373.0" stroke="#000" stroke-width="2.0"/>
<rect x="448.9" y="1375.0" width="12.6" height="112.9" fill="#dddddd"/>
<line x1="455.4" y1="1362.1" x2="455.4" y2="1375.0" stroke="#000" stroke-width="2.0"/>
<line x1="451.3" y1="1362.1" x2="459.4" y2="1362.1" stroke="#000" stroke-width="2.0"/>
<rect x="495.9" y="1424.7" width="13.2" height="63.2" fill="#000"/>
<line x1="502.3" y1="1390.3" x2="502.3" y2="1424.7" stroke="#000" stroke-width="2.0"/>
<line x1="498.2" y1="1390.3" x2="506.4" y2="1390.3" stroke="#000" stroke-width="2.0"/>
<rect x="511.2" y="1365.5" width="12.2" height="122.4" fill="#4d4d4d"/>
<line x1="517.3" y1="1340.7" x2="517.3" y2="1365.5" stroke="#000" stroke-width="2.0"/>
<line x1="513.2" y1="1340.7" x2="521.3" y2="1340.7" stroke="#000" stroke-width="2.0"/>
<rect x="526.1" y="1339.3" width="12.3" height="148.6" fill="#dddddd"/>
<line x1="532.3" y1="1321.3" x2="532.3" y2="1339.3" stroke="#000" stroke-width="2.0"/>
<line x1="528.2" y1="1321.3" x2="536.3" y2="1321.3" stroke="#000" stroke-width="2.0"/>
<line x1="82.6" y1="1099.5" x2="82.6" y2="1488.9" stroke="#000" stroke-width="2.0"/>
<line x1="76.5" y1="1487.9" x2="557.8" y2="1487.9" stroke="#000" stroke-width="2.0"/>
<line x1="76.6" y1="1487.9" x2="82.6" y2="1487.9" stroke="#000" stroke-width="1.7"/>
<text x="67.3" y="1495.1" font-size="20.7" text-anchor="end">0</text>
<line x1="76.6" y1="1380.8" x2="82.6" y2="1380.8" stroke="#000" stroke-width="1.7"/>
<text x="67.3" y="1388.0" font-size="20.7" text-anchor="end">20</text>
<line x1="76.6" y1="1274.0" x2="82.6" y2="1274.0" stroke="#000" stroke-width="1.7"/>
<text x="67.3" y="1281.2" font-size="20.7" text-anchor="end">40</text>
<line x1="76.6" y1="1167.5" x2="82.6" y2="1167.5" stroke="#000" stroke-width="1.7"/>
<text x="67.3" y="1174.7" font-size="20.7" text-anchor="end">60</text>
<text transform="translate(25.5,1294.4) rotate(-90)" font-size="20.7" text-anchor="middle">Haloperidol treated -Percent PPI</text>
<text x="199.8" y="1095.4" font-size="20.7" text-anchor="middle">WT</text>
<text x="401.3" y="1092.0" font-size="20.7">Pcm1<tspan font-size="14.7" dy="-8.3">−/−</tspan></text>
<line x1="319.7" y1="1099.3" x2="319.7" y2="1487" stroke="#000" stroke-width="4.5" stroke-linecap="round" stroke-dasharray="0 11.03"/>
<line x1="352.9" y1="1325.2" x2="390.2" y2="1325.2" stroke="#000" stroke-width="3.2"/>
<text x="371.4" y="1326.4" font-size="25" text-anchor="middle" stroke="#111" stroke-width="0.7">*</text>
<line x1="418.0" y1="1346.9" x2="455.5" y2="1346.9" stroke="#000" stroke-width="3.2"/>
<text x="438.4" y="1346.8" font-size="25" text-anchor="middle" stroke="#111" stroke-width="0.7">*</text>
<line x1="496.9" y1="1309.0" x2="534.2" y2="1309.0" stroke="#000" stroke-width="3.2"/>
<text x="515.4" y="1308.0" font-size="25" text-anchor="middle" stroke="#111" stroke-width="0.7">*</text>
<rect x="493.8" y="1135.3" width="11.3" height="11.3" fill="#000"/>
<text x="513.4" y="1146.2" font-size="16.3">4dB</text>
<rect x="493.8" y="1168.9" width="11.3" height="11.3" fill="#4d4d4d"/>
<text x="513.4" y="1179.8" font-size="16.3">8dB</text>
<rect x="493.8" y="1205.0" width="11.3" height="11.3" fill="#c9c9c9"/>
<text x="513.4" y="1215.9" font-size="16.3">12dB</text>
<text transform="translate(129.2,1506.5) rotate(-45)" font-size="20.7" text-anchor="end">Vehicle</text>
<text transform="translate(146.5,1525.3) rotate(-45)" font-size="20.7" text-anchor="end" letter-spacing="-0.7"><tspan font-style="italic">N</tspan>=12</text>
<text transform="translate(206.2,1506.5) rotate(-45)" font-size="20.7" text-anchor="end">0.1mg/kg</text>
<text transform="translate(223.5,1525.3) rotate(-45)" font-size="20.7" text-anchor="end" letter-spacing="-0.7"><tspan font-style="italic">N</tspan>=10</text>
<text transform="translate(282.2,1506.5) rotate(-45)" font-size="20.7" text-anchor="end">0.5mg/kg</text>
<text transform="translate(299.5,1525.3) rotate(-45)" font-size="20.7" text-anchor="end" letter-spacing="-0.7"><tspan font-style="italic">N</tspan>=11</text>
<text transform="translate(377.2,1506.5) rotate(-45)" font-size="20.7" text-anchor="end">Vehicle</text>
<text transform="translate(394.5,1525.3) rotate(-45)" font-size="20.7" text-anchor="end" letter-spacing="-0.7"><tspan font-style="italic">N</tspan>=16</text>
<text transform="translate(447.2,1506.5) rotate(-45)" font-size="20.7" text-anchor="end">0.1mg/kg</text>
<text transform="translate(464.5,1525.3) rotate(-45)" font-size="20.7" text-anchor="end" letter-spacing="-0.7"><tspan font-style="italic">N</tspan>=12</text>
<text transform="translate(523.2,1506.5) rotate(-45)" font-size="20.7" text-anchor="end">0.5mg/kg</text>
<text transform="translate(540.5,1525.3) rotate(-45)" font-size="20.7" text-anchor="end" letter-spacing="-0.7"><tspan font-style="italic">N</tspan>=14</text>
<rect x="750.1" y="1361.4" width="13.9" height="126.5" fill="#000"/>
<line x1="756.9" y1="1345.1" x2="756.9" y2="1361.4" stroke="#000" stroke-width="2.0"/>
<line x1="752.9" y1="1345.1" x2="760.9" y2="1345.1" stroke="#000" stroke-width="2.0"/>
<rect x="766.0" y="1262.8" width="12.3" height="225.1" fill="#4d4d4d"/>
<line x1="772.2" y1="1246.8" x2="772.2" y2="1262.8" stroke="#000" stroke-width="2.0"/>
<line x1="768.2" y1="1246.8" x2="776.2" y2="1246.8" stroke="#000" stroke-width="2.0"/>
<rect x="780.7" y="1172.6" width="12.2" height="315.3" fill="#dddddd"/>
<line x1="786.8" y1="1152.2" x2="786.8" y2="1172.6" stroke="#000" stroke-width="2.0"/>
<line x1="782.8" y1="1152.2" x2="790.8" y2="1152.2" stroke="#000" stroke-width="2.0"/>
<rect x="822.5" y="1345.1" width="13.3" height="142.8" fill="#000"/>
<line x1="829.0" y1="1316.2" x2="829.0" y2="1345.1" stroke="#000" stroke-width="2.0"/>
<line x1="825.0" y1="1316.2" x2="833.0" y2="1316.2" stroke="#000" stroke-width="2.0"/>
<rect x="838.1" y="1267.9" width="12.3" height="220.0" fill="#4d4d4d"/>
<line x1="844.3" y1="1232.8" x2="844.3" y2="1267.9" stroke="#000" stroke-width="2.0"/>
<line x1="840.2" y1="1232.8" x2="848.3" y2="1232.8" stroke="#000" stroke-width="2.0"/>
<rect x="853.1" y="1170.9" width="12.6" height="317.0" fill="#dddddd"/>
<line x1="859.6" y1="1142.7" x2="859.6" y2="1170.9" stroke="#000" stroke-width="2.0"/>
<line x1="855.6" y1="1142.7" x2="863.6" y2="1142.7" stroke="#000" stroke-width="2.0"/>
<rect x="898.3" y="1327.4" width="13.6" height="160.5" fill="#000"/>
<line x1="905.1" y1="1301.2" x2="905.1" y2="1327.4" stroke="#000" stroke-width="2.0"/>
<line x1="901.1" y1="1301.2" x2="909.1" y2="1301.2" stroke="#000" stroke-width="2.0"/>
<rect x="914.0" y="1241.3" width="12.2" height="246.6" fill="#4d4d4d"/>
<line x1="920.1" y1="1226.0" x2="920.1" y2="1241.3" stroke="#000" stroke-width="2.0"/>
<line x1="916.1" y1="1226.0" x2="924.1" y2="1226.0" stroke="#000" stroke-width="2.0"/>
<rect x="929.0" y="1195.8" width="12.2" height="292.1" fill="#dddddd"/>
<line x1="935.1" y1="1170.9" x2="935.1" y2="1195.8" stroke="#000" stroke-width="2.0"/>
<line x1="931.1" y1="1170.9" x2="939.1" y2="1170.9" stroke="#000" stroke-width="2.0"/>
<rect x="994.6" y="1461.7" width="12.6" height="26.2" fill="#000"/>
<line x1="1001.1" y1="1431.8" x2="1001.1" y2="1461.7" stroke="#000" stroke-width="2.0"/>
<line x1="997.1" y1="1431.8" x2="1005.1" y2="1431.8" stroke="#000" stroke-width="2.0"/>
<rect x="1009.9" y="1434.5" width="12.2" height="53.4" fill="#4d4d4d"/>
<line x1="1016.0" y1="1397.1" x2="1016.0" y2="1434.5" stroke="#000" stroke-width="2.0"/>
<line x1="1012.0" y1="1397.1" x2="1020.0" y2="1397.1" stroke="#000" stroke-width="2.0"/>
<rect x="1024.9" y="1362.1" width="12.2" height="125.8" fill="#dddddd"/>
<line x1="1031.0" y1="1344.7" x2="1031.0" y2="1362.1" stroke="#000" stroke-width="2.0"/>
<line x1="1027.0" y1="1344.7" x2="1035.0" y2="1344.7" stroke="#000" stroke-width="2.0"/>
<rect x="1064.3" y="1407.3" width="13.6" height="80.6" fill="#000"/>
<line x1="1071.1" y1="1394.4" x2="1071.1" y2="1407.3" stroke="#000" stroke-width="2.0"/>
<line x1="1067.0" y1="1394.4" x2="1075.1" y2="1394.4" stroke="#000" stroke-width="2.0"/>
<rect x="1080.0" y="1381.8" width="12.5" height="106.1" fill="#4d4d4d"/>
<line x1="1086.1" y1="1370.2" x2="1086.1" y2="1381.8" stroke="#000" stroke-width="2.0"/>
<line x1="1082.0" y1="1370.2" x2="1090.1" y2="1370.2" stroke="#000" stroke-width="2.0"/>
<rect x="1094.9" y="1320.9" width="12.3" height="167.0" fill="#dddddd"/>
<line x1="1101.0" y1="1307.3" x2="1101.0" y2="1320.9" stroke="#000" stroke-width="2.0"/>
<line x1="1097.0" y1="1307.3" x2="1105.0" y2="1307.3" stroke="#000" stroke-width="2.0"/>
<rect x="1141.5" y="1417.2" width="13.3" height="70.7" fill="#000"/>
<line x1="1148.3" y1="1402.5" x2="1148.3" y2="1417.2" stroke="#000" stroke-width="2.0"/>
<line x1="1144.2" y1="1402.5" x2="1152.3" y2="1402.5" stroke="#000" stroke-width="2.0"/>
<rect x="1157.2" y="1406.3" width="12.2" height="81.6" fill="#4d4d4d"/>
<line x1="1163.3" y1="1387.6" x2="1163.3" y2="1406.3" stroke="#000" stroke-width="2.0"/>
<line x1="1159.2" y1="1387.6" x2="1167.3" y2="1387.6" stroke="#000" stroke-width="2.0"/>
<rect x="1172.1" y="1361.1" width="12.3" height="126.8" fill="#dddddd"/>
<line x1="1178.2" y1="1344.7" x2="1178.2" y2="1361.1" stroke="#000" stroke-width="2.0"/>
<line x1="1174.2" y1="1344.7" x2="1182.2" y2="1344.7" stroke="#000" stroke-width="2.0"/>
<line x1="728.3" y1="1099.5" x2="728.3" y2="1488.9" stroke="#000" stroke-width="2.0"/>
<line x1="721.8" y1="1487.9" x2="1204.1" y2="1487.9" stroke="#000" stroke-width="2.0"/>
<line x1="722.3" y1="1487.9" x2="728.3" y2="1487.9" stroke="#000" stroke-width="1.7"/>
<text x="712.6" y="1495.1" font-size="20.7" text-anchor="end">0</text>
<line x1="722.3" y1="1380.8" x2="728.3" y2="1380.8" stroke="#000" stroke-width="1.7"/>
<text x="712.6" y="1388.0" font-size="20.7" text-anchor="end">20</text>
<line x1="722.3" y1="1274.0" x2="728.3" y2="1274.0" stroke="#000" stroke-width="1.7"/>
<text x="712.6" y="1281.2" font-size="20.7" text-anchor="end">40</text>
<line x1="722.3" y1="1167.5" x2="728.3" y2="1167.5" stroke="#000" stroke-width="1.7"/>
<text x="712.6" y="1174.7" font-size="20.7" text-anchor="end">60</text>
<text transform="translate(667.4,1294.4) rotate(-90)" font-size="20.7" text-anchor="middle">Clozapine treated - Percent PPI</text>
<text x="846.0" y="1095.4" font-size="20.7" text-anchor="middle">WT</text>
<text x="1047.6" y="1092.0" font-size="20.7">Pcm1<tspan font-size="14.7" dy="-8.3">−/−</tspan></text>
<line x1="965.3" y1="1099.3" x2="965.3" y2="1487" stroke="#000" stroke-width="4.5" stroke-linecap="round" stroke-dasharray="0 11.03"/>
<line x1="996.0" y1="1330.3" x2="1034.1" y2="1330.3" stroke="#000" stroke-width="3.2"/>
<text x="1013.6" y="1331.4" font-size="25" text-anchor="middle" stroke="#111" stroke-width="0.7">*</text>
<line x1="1066.9" y1="1292.2" x2="1104.7" y2="1292.2" stroke="#000" stroke-width="3.2"/>
<text x="1087.3" y="1291.9" font-size="25" text-anchor="middle" stroke="#111" stroke-width="0.7">*</text>
<line x1="1145.9" y1="1335.8" x2="1183.3" y2="1335.8" stroke="#000" stroke-width="3.2"/>
<text x="1164.3" y="1334.3" font-size="25" text-anchor="middle" stroke="#111" stroke-width="0.7">*</text>
<rect x="1142.2" y="1135.3" width="11.3" height="11.3" fill="#000"/>
<text x="1161.8" y="1146.2" font-size="16.3">4dB</text>
<rect x="1142.2" y="1168.9" width="11.3" height="11.3" fill="#4d4d4d"/>
<text x="1161.8" y="1179.8" font-size="16.3">8dB</text>
<rect x="1142.2" y="1205.0" width="11.3" height="11.3" fill="#c9c9c9"/>
<text x="1161.8" y="1215.9" font-size="16.3">12dB</text>
<text transform="translate(780.2,1506.5) rotate(-45)" font-size="20.7" text-anchor="end">Vehicle</text>
<text transform="translate(797.5,1525.3) rotate(-45)" font-size="20.7" text-anchor="end" letter-spacing="-0.7"><tspan font-style="italic">N</tspan>=12</text>
<text transform="translate(854.2,1506.5) rotate(-45)" font-size="20.7" text-anchor="end">1 mg/kg</text>
<text transform="translate(871.5,1525.3) rotate(-45)" font-size="20.7" text-anchor="end" letter-spacing="-0.7"><tspan font-style="italic">N</tspan>=10</text>
<text transform="translate(930.2,1506.5) rotate(-45)" font-size="20.7" text-anchor="end">3 mg/kg</text>
<text transform="translate(947.5,1525.3) rotate(-45)" font-size="20.7" text-anchor="end" letter-spacing="-0.7"><tspan font-style="italic">N</tspan>=14</text>
<text transform="translate(1022.2,1506.5) rotate(-45)" font-size="20.7" text-anchor="end">Vehicle</text>
<text transform="translate(1039.5,1525.3) rotate(-45)" font-size="20.7" text-anchor="end" letter-spacing="-0.7"><tspan font-style="italic">N</tspan>=16</text>
<text transform="translate(1094.2,1506.5) rotate(-45)" font-size="20.7" text-anchor="end">1 mg/kg</text>
<text transform="translate(1111.5,1525.3) rotate(-45)" font-size="20.7" text-anchor="end" letter-spacing="-0.7"><tspan font-style="italic">N</tspan>=10</text>
<text transform="translate(1170.2,1506.5) rotate(-45)" font-size="20.7" text-anchor="end">3 mg/kg</text>
<text transform="translate(1187.5,1525.3) rotate(-45)" font-size="20.7" text-anchor="end" letter-spacing="-0.7"><tspan font-style="italic">N</tspan>=15</text>
<line x1="1359.2" y1="1096.7" x2="1359.2" y2="1486.0" stroke="#000" stroke-width="2.0"/>
<line x1="1353.5" y1="1485.0" x2="1994.0" y2="1485.0" stroke="#000" stroke-width="2.0"/>
<line x1="1353.5" y1="1485.3" x2="1359.2" y2="1485.3" stroke="#000" stroke-width="1.9"/>
<text x="1343.0" y="1491.7" font-size="20.7" text-anchor="end">0</text>
<line x1="1353.5" y1="1431.8" x2="1359.2" y2="1431.8" stroke="#000" stroke-width="1.9"/>
<text x="1343.0" y="1438.2" font-size="20.7" text-anchor="end">10</text>
<line x1="1353.5" y1="1378.4" x2="1359.2" y2="1378.4" stroke="#000" stroke-width="1.9"/>
<text x="1343.0" y="1384.8" font-size="20.7" text-anchor="end">20</text>
<line x1="1353.5" y1="1325.0" x2="1359.2" y2="1325.0" stroke="#000" stroke-width="1.9"/>
<text x="1343.0" y="1331.4" font-size="20.7" text-anchor="end">30</text>
<line x1="1353.5" y1="1271.5" x2="1359.2" y2="1271.5" stroke="#000" stroke-width="1.9"/>
<text x="1343.0" y="1277.9" font-size="20.7" text-anchor="end">40</text>
<line x1="1353.5" y1="1218.0" x2="1359.2" y2="1218.0" stroke="#000" stroke-width="1.9"/>
<text x="1343.0" y="1224.5" font-size="20.7" text-anchor="end">50</text>
<line x1="1353.5" y1="1164.6" x2="1359.2" y2="1164.6" stroke="#000" stroke-width="1.9"/>
<text x="1343.0" y="1171.0" font-size="20.7" text-anchor="end">60</text>
<line x1="1353.5" y1="1111.1" x2="1359.2" y2="1111.1" stroke="#000" stroke-width="1.9"/>
<text x="1343.0" y="1117.5" font-size="20.7" text-anchor="end">70</text>
<text transform="translate(1298.4,1291.0) rotate(-90)" font-size="20.7" text-anchor="middle">Time in catalepsy (sec)</text>
<text x="1513.0" y="1095.0" font-size="20.7" text-anchor="middle">WT</text>
<text x="1790.8" y="1095.0" font-size="20.7">Pcm1<tspan font-size="14.7" dy="-8.3">−/−</tspan></text>
<rect x="1371.2" y="1105.8" width="39.0" height="13.3" fill="#000"/>
<rect x="1371.2" y="1125.8" width="39.0" height="12.0" fill="#dddddd"/>
<text x="1417.9" y="1117.8" font-size="16.5">Baseline</text>
<text x="1417.9" y="1136.8" font-size="16.5">60 mins</text>
<line x1="1679.4" y1="1096.5" x2="1679.4" y2="1482" stroke="#000" stroke-width="4.3" stroke-linecap="round" stroke-dasharray="0 10.98"/>
<rect x="1396.9" y="1469.7" width="12.7" height="15.3" fill="#dddddd"/>
<rect x="1381.2" y="1477.8" width="13.3" height="7.2" fill="#000"/>
<line x1="1403.2" y1="1465.5" x2="1403.2" y2="1469.7" stroke="#000" stroke-width="1.4"/>
<line x1="1399.2" y1="1465.5" x2="1407.2" y2="1465.5" stroke="#000" stroke-width="1.4"/>
<line x1="1387.8" y1="1475.6" x2="1387.8" y2="1477.8" stroke="#000" stroke-width="1.2"/>
<line x1="1384.3" y1="1475.6" x2="1391.3" y2="1475.6" stroke="#000" stroke-width="1.2"/>
<circle cx="1402.8" cy="1442.1" r="3.15" fill="#000"/>
<circle cx="1402.8" cy="1458.1" r="3.15" fill="#000"/>
<circle cx="1402.8" cy="1479.4" r="3.15" fill="#000"/>
<circle cx="1402.8" cy="1484.7" r="3.15" fill="#000"/>
<circle cx="1386.8" cy="1474.0" r="2.45" fill="#fff" stroke="#000" stroke-width="1.4"/>
<circle cx="1386.8" cy="1479.4" r="2.45" fill="#fff" stroke="#000" stroke-width="1.4"/>
<circle cx="1386.8" cy="1484.7" r="2.45" fill="#fff" stroke="#000" stroke-width="1.4"/>
<rect x="1445.3" y="1466.0" width="12.7" height="19.0" fill="#dddddd"/>
<rect x="1429.6" y="1477.8" width="13.0" height="7.2" fill="#000"/>
<line x1="1451.7" y1="1459.0" x2="1451.7" y2="1466.0" stroke="#000" stroke-width="1.4"/>
<line x1="1447.7" y1="1459.0" x2="1455.7" y2="1459.0" stroke="#000" stroke-width="1.4"/>
<line x1="1436.1" y1="1475.6" x2="1436.1" y2="1477.8" stroke="#000" stroke-width="1.2"/>
<line x1="1432.6" y1="1475.6" x2="1439.6" y2="1475.6" stroke="#000" stroke-width="1.2"/>
<circle cx="1451.5" cy="1404.8" r="3.15" fill="#000"/>
<circle cx="1451.5" cy="1452.7" r="3.15" fill="#000"/>
<circle cx="1451.5" cy="1458.1" r="3.15" fill="#000"/>
<circle cx="1451.5" cy="1468.7" r="3.15" fill="#000"/>
<circle cx="1451.5" cy="1474.0" r="3.15" fill="#000"/>
<circle cx="1451.5" cy="1479.4" r="3.15" fill="#000"/>
<circle cx="1451.5" cy="1484.7" r="3.15" fill="#000"/>
<circle cx="1435.8" cy="1474.0" r="2.45" fill="#fff" stroke="#000" stroke-width="1.4"/>
<circle cx="1435.8" cy="1479.4" r="2.45" fill="#fff" stroke="#000" stroke-width="1.4"/>
<circle cx="1435.8" cy="1484.7" r="2.45" fill="#fff" stroke="#000" stroke-width="1.4"/>
<rect x="1494.4" y="1375.1" width="12.3" height="109.9" fill="#dddddd"/>
<rect x="1478.7" y="1477.8" width="12.7" height="7.2" fill="#000"/>
<line x1="1500.6" y1="1343.6" x2="1500.6" y2="1375.1" stroke="#000" stroke-width="1.4"/>
<line x1="1496.6" y1="1343.6" x2="1504.6" y2="1343.6" stroke="#000" stroke-width="1.4"/>
<line x1="1485.1" y1="1475.6" x2="1485.1" y2="1477.8" stroke="#000" stroke-width="1.2"/>
<line x1="1481.6" y1="1475.6" x2="1488.6" y2="1475.6" stroke="#000" stroke-width="1.2"/>
<circle cx="1500.4" cy="1165.1" r="3.15" fill="#000"/>
<circle cx="1500.4" cy="1330.2" r="3.15" fill="#000"/>
<circle cx="1500.4" cy="1362.2" r="3.15" fill="#000"/>
<circle cx="1500.4" cy="1394.1" r="3.15" fill="#000"/>
<circle cx="1500.4" cy="1415.4" r="3.15" fill="#000"/>
<circle cx="1500.4" cy="1426.1" r="3.15" fill="#000"/>
<circle cx="1500.4" cy="1458.1" r="3.15" fill="#000"/>
<circle cx="1482.0" cy="1474.0" r="2.45" fill="#fff" stroke="#000" stroke-width="1.4"/>
<circle cx="1482.0" cy="1479.4" r="2.45" fill="#fff" stroke="#000" stroke-width="1.4"/>
<circle cx="1482.0" cy="1484.7" r="2.45" fill="#fff" stroke="#000" stroke-width="1.4"/>
<rect x="1543.1" y="1262.9" width="12.4" height="222.1" fill="#dddddd"/>
<rect x="1527.1" y="1472.9" width="12.7" height="12.1" fill="#000"/>
<line x1="1549.3" y1="1239.9" x2="1549.3" y2="1262.9" stroke="#000" stroke-width="1.4"/>
<line x1="1545.3" y1="1239.9" x2="1553.3" y2="1239.9" stroke="#000" stroke-width="1.4"/>
<line x1="1533.4" y1="1469.7" x2="1533.4" y2="1472.9" stroke="#000" stroke-width="1.2"/>
<line x1="1529.9" y1="1469.7" x2="1536.9" y2="1469.7" stroke="#000" stroke-width="1.2"/>
<circle cx="1549.4" cy="1165.1" r="3.15" fill="#000"/>
<circle cx="1549.4" cy="1170.4" r="3.15" fill="#000"/>
<circle cx="1549.4" cy="1255.6" r="3.15" fill="#000"/>
<circle cx="1549.4" cy="1330.2" r="3.15" fill="#000"/>
<circle cx="1549.4" cy="1335.5" r="3.15" fill="#000"/>
<circle cx="1549.4" cy="1340.9" r="3.15" fill="#000"/>
<circle cx="1549.4" cy="1351.5" r="3.15" fill="#000"/>
<circle cx="1549.4" cy="1399.5" r="3.15" fill="#000"/>
<circle cx="1549.4" cy="1404.8" r="3.15" fill="#000"/>
<circle cx="1549.4" cy="1436.8" r="3.15" fill="#000"/>
<circle cx="1533.1" cy="1436.8" r="2.45" fill="#fff" stroke="#000" stroke-width="1.4"/>
<circle cx="1533.1" cy="1463.4" r="2.45" fill="#fff" stroke="#000" stroke-width="1.4"/>
<circle cx="1533.1" cy="1474.0" r="2.45" fill="#fff" stroke="#000" stroke-width="1.4"/>
<circle cx="1533.1" cy="1479.4" r="2.45" fill="#fff" stroke="#000" stroke-width="1.4"/>
<circle cx="1533.1" cy="1484.7" r="2.45" fill="#fff" stroke="#000" stroke-width="1.4"/>
<rect x="1593.2" y="1192.3" width="12.7" height="292.7" fill="#dddddd"/>
<rect x="1578.2" y="1481.5" width="12.3" height="3.5" fill="#000"/>
<line x1="1599.6" y1="1181.6" x2="1599.6" y2="1192.3" stroke="#000" stroke-width="1.4"/>
<line x1="1595.6" y1="1181.6" x2="1603.6" y2="1181.6" stroke="#000" stroke-width="1.4"/>
<line x1="1584.3" y1="1479.9" x2="1584.3" y2="1481.5" stroke="#000" stroke-width="1.2"/>
<line x1="1580.8" y1="1479.9" x2="1587.8" y2="1479.9" stroke="#000" stroke-width="1.2"/>
<circle cx="1599.5" cy="1165.1" r="3.15" fill="#000"/>
<circle cx="1599.5" cy="1239.7" r="3.15" fill="#000"/>
<circle cx="1599.5" cy="1346.2" r="3.15" fill="#000"/>
<circle cx="1584.5" cy="1474.0" r="2.45" fill="#fff" stroke="#000" stroke-width="1.4"/>
<circle cx="1584.5" cy="1479.4" r="2.45" fill="#fff" stroke="#000" stroke-width="1.4"/>
<circle cx="1584.5" cy="1484.7" r="2.45" fill="#fff" stroke="#000" stroke-width="1.4"/>
<rect x="1641.9" y="1164.0" width="12.4" height="321.0" fill="#dddddd"/>
<rect x="1626.3" y="1473.5" width="12.6" height="11.5" fill="#000"/>
<line x1="1632.6" y1="1470.8" x2="1632.6" y2="1473.5" stroke="#000" stroke-width="1.2"/>
<line x1="1629.1" y1="1470.8" x2="1636.1" y2="1470.8" stroke="#000" stroke-width="1.2"/>
<circle cx="1648.2" cy="1165.1" r="3.15" fill="#000"/>
<circle cx="1632.9" cy="1458.1" r="2.45" fill="#fff" stroke="#000" stroke-width="1.4"/>
<circle cx="1632.9" cy="1463.4" r="2.45" fill="#fff" stroke="#000" stroke-width="1.4"/>
<circle cx="1632.9" cy="1468.7" r="2.45" fill="#fff" stroke="#000" stroke-width="1.4"/>
<circle cx="1632.9" cy="1474.0" r="2.45" fill="#fff" stroke="#000" stroke-width="1.4"/>
<circle cx="1632.9" cy="1479.4" r="2.45" fill="#fff" stroke="#000" stroke-width="1.4"/>
<circle cx="1632.9" cy="1484.7" r="2.45" fill="#fff" stroke="#000" stroke-width="1.4"/>
<rect x="1719.4" y="1474.0" width="12.3" height="11.0" fill="#dddddd"/>
<rect x="1703.4" y="1477.8" width="12.6" height="7.2" fill="#000"/>
<line x1="1725.6" y1="1467.6" x2="1725.6" y2="1474.0" stroke="#000" stroke-width="1.4"/>
<line x1="1721.6" y1="1467.6" x2="1729.6" y2="1467.6" stroke="#000" stroke-width="1.4"/>
<line x1="1709.7" y1="1475.6" x2="1709.7" y2="1477.8" stroke="#000" stroke-width="1.2"/>
<line x1="1706.2" y1="1475.6" x2="1713.2" y2="1475.6" stroke="#000" stroke-width="1.2"/>
<circle cx="1725.8" cy="1447.4" r="3.15" fill="#000"/>
<circle cx="1725.8" cy="1468.7" r="3.15" fill="#000"/>
<circle cx="1725.8" cy="1479.4" r="3.15" fill="#000"/>
<circle cx="1725.8" cy="1484.7" r="3.15" fill="#000"/>
<circle cx="1709.4" cy="1468.7" r="2.45" fill="#fff" stroke="#000" stroke-width="1.4"/>
<circle cx="1709.4" cy="1474.0" r="2.45" fill="#fff" stroke="#000" stroke-width="1.4"/>
<circle cx="1709.4" cy="1479.4" r="2.45" fill="#fff" stroke="#000" stroke-width="1.4"/>
<circle cx="1709.4" cy="1484.7" r="2.45" fill="#fff" stroke="#000" stroke-width="1.4"/>
<rect x="1767.4" y="1463.3" width="12.1" height="21.7" fill="#dddddd"/>
<rect x="1751.8" y="1475.6" width="12.6" height="9.4" fill="#000"/>
<line x1="1773.5" y1="1454.2" x2="1773.5" y2="1463.3" stroke="#000" stroke-width="1.4"/>
<line x1="1769.5" y1="1454.2" x2="1777.5" y2="1454.2" stroke="#000" stroke-width="1.4"/>
<line x1="1758.1" y1="1473.5" x2="1758.1" y2="1475.6" stroke="#000" stroke-width="1.2"/>
<line x1="1754.6" y1="1473.5" x2="1761.6" y2="1473.5" stroke="#000" stroke-width="1.2"/>
<circle cx="1773.1" cy="1383.5" r="3.15" fill="#000"/>
<circle cx="1773.1" cy="1442.1" r="3.15" fill="#000"/>
<circle cx="1773.1" cy="1447.4" r="3.15" fill="#000"/>
<circle cx="1773.1" cy="1468.7" r="3.15" fill="#000"/>
<circle cx="1773.1" cy="1474.0" r="3.15" fill="#000"/>
<circle cx="1773.1" cy="1479.4" r="3.15" fill="#000"/>
<circle cx="1773.1" cy="1484.7" r="3.15" fill="#000"/>
<circle cx="1758.1" cy="1468.7" r="2.45" fill="#fff" stroke="#000" stroke-width="1.4"/>
<circle cx="1758.1" cy="1474.0" r="2.45" fill="#fff" stroke="#000" stroke-width="1.4"/>
<circle cx="1758.1" cy="1479.4" r="2.45" fill="#fff" stroke="#000" stroke-width="1.4"/>
<circle cx="1758.1" cy="1484.7" r="2.45" fill="#fff" stroke="#000" stroke-width="1.4"/>
<rect x="1816.2" y="1431.2" width="12.3" height="53.8" fill="#dddddd"/>
<rect x="1800.8" y="1477.8" width="12.7" height="7.2" fill="#000"/>
<line x1="1822.3" y1="1420.6" x2="1822.3" y2="1431.2" stroke="#000" stroke-width="1.4"/>
<line x1="1818.3" y1="1420.6" x2="1826.3" y2="1420.6" stroke="#000" stroke-width="1.4"/>
<line x1="1807.2" y1="1475.6" x2="1807.2" y2="1477.8" stroke="#000" stroke-width="1.2"/>
<line x1="1803.7" y1="1475.6" x2="1810.7" y2="1475.6" stroke="#000" stroke-width="1.2"/>
<circle cx="1823.2" cy="1410.1" r="3.15" fill="#000"/>
<circle cx="1823.2" cy="1420.8" r="3.15" fill="#000"/>
<circle cx="1823.2" cy="1426.1" r="3.15" fill="#000"/>
<circle cx="1823.2" cy="1431.4" r="3.15" fill="#000"/>
<circle cx="1823.2" cy="1442.1" r="3.15" fill="#000"/>
<circle cx="1823.2" cy="1447.4" r="3.15" fill="#000"/>
<circle cx="1823.2" cy="1458.1" r="3.15" fill="#000"/>
<circle cx="1806.8" cy="1458.1" r="2.45" fill="#fff" stroke="#000" stroke-width="1.4"/>
<circle cx="1806.8" cy="1479.4" r="2.45" fill="#fff" stroke="#000" stroke-width="1.4"/>
<circle cx="1806.8" cy="1484.7" r="2.45" fill="#fff" stroke="#000" stroke-width="1.4"/>
<rect x="1864.9" y="1345.7" width="12.3" height="139.3" fill="#dddddd"/>
<rect x="1849.5" y="1470.3" width="12.4" height="14.7" fill="#000"/>
<line x1="1871.1" y1="1326.5" x2="1871.1" y2="1345.7" stroke="#000" stroke-width="1.4"/>
<line x1="1867.1" y1="1326.5" x2="1875.1" y2="1326.5" stroke="#000" stroke-width="1.4"/>
<line x1="1855.7" y1="1467.1" x2="1855.7" y2="1470.3" stroke="#000" stroke-width="1.2"/>
<line x1="1852.2" y1="1467.1" x2="1859.2" y2="1467.1" stroke="#000" stroke-width="1.2"/>
<circle cx="1870.6" cy="1191.7" r="3.15" fill="#000"/>
<circle cx="1870.6" cy="1223.7" r="3.15" fill="#000"/>
<circle cx="1870.6" cy="1261.0" r="3.15" fill="#000"/>
<circle cx="1870.6" cy="1282.3" r="3.15" fill="#000"/>
<circle cx="1870.6" cy="1335.5" r="3.15" fill="#000"/>
<circle cx="1870.6" cy="1372.8" r="3.15" fill="#000"/>
<circle cx="1870.6" cy="1410.1" r="3.15" fill="#000"/>
<circle cx="1870.6" cy="1415.4" r="3.15" fill="#000"/>
<circle cx="1870.6" cy="1431.4" r="3.15" fill="#000"/>
<circle cx="1870.6" cy="1452.7" r="3.15" fill="#000"/>
<circle cx="1870.6" cy="1458.1" r="3.15" fill="#000"/>
<circle cx="1855.9" cy="1442.1" r="2.45" fill="#fff" stroke="#000" stroke-width="1.4"/>
<circle cx="1855.9" cy="1468.7" r="2.45" fill="#fff" stroke="#000" stroke-width="1.4"/>
<circle cx="1855.9" cy="1474.0" r="2.45" fill="#fff" stroke="#000" stroke-width="1.4"/>
<circle cx="1855.9" cy="1479.4" r="2.45" fill="#fff" stroke="#000" stroke-width="1.4"/>
<circle cx="1855.9" cy="1484.7" r="2.45" fill="#fff" stroke="#000" stroke-width="1.4"/>
<rect x="1915.6" y="1342.5" width="12.4" height="142.5" fill="#dddddd"/>
<rect x="1900.3" y="1477.8" width="12.3" height="7.2" fill="#000"/>
<line x1="1921.8" y1="1335.0" x2="1921.8" y2="1342.5" stroke="#000" stroke-width="1.4"/>
<line x1="1917.8" y1="1335.0" x2="1925.8" y2="1335.0" stroke="#000" stroke-width="1.4"/>
<line x1="1906.4" y1="1475.6" x2="1906.4" y2="1477.8" stroke="#000" stroke-width="1.2"/>
<line x1="1902.9" y1="1475.6" x2="1909.9" y2="1475.6" stroke="#000" stroke-width="1.2"/>
<circle cx="1921.6" cy="1261.0" r="3.15" fill="#000"/>
<circle cx="1921.6" cy="1266.3" r="3.15" fill="#000"/>
<circle cx="1921.6" cy="1319.6" r="3.15" fill="#000"/>
<circle cx="1921.6" cy="1340.9" r="3.15" fill="#000"/>
<circle cx="1921.6" cy="1346.2" r="3.15" fill="#000"/>
<circle cx="1921.6" cy="1372.8" r="3.15" fill="#000"/>
<circle cx="1921.6" cy="1388.8" r="3.15" fill="#000"/>
<circle cx="1921.6" cy="1410.1" r="3.15" fill="#000"/>
<circle cx="1921.6" cy="1458.1" r="3.15" fill="#000"/>
<circle cx="1904.3" cy="1474.0" r="2.45" fill="#fff" stroke="#000" stroke-width="1.4"/>
<circle cx="1904.3" cy="1479.4" r="2.45" fill="#fff" stroke="#000" stroke-width="1.4"/>
<circle cx="1904.3" cy="1484.7" r="2.45" fill="#fff" stroke="#000" stroke-width="1.4"/>
<rect x="1963.7" y="1188.6" width="12.3" height="296.4" fill="#dddddd"/>
<rect x="1947.6" y="1464.9" width="13.4" height="20.1" fill="#000"/>
<line x1="1969.8" y1="1176.3" x2="1969.8" y2="1188.6" stroke="#000" stroke-width="1.4"/>
<line x1="1965.8" y1="1176.3" x2="1973.8" y2="1176.3" stroke="#000" stroke-width="1.4"/>
<line x1="1954.3" y1="1460.6" x2="1954.3" y2="1464.9" stroke="#000" stroke-width="1.2"/>
<line x1="1950.8" y1="1460.6" x2="1957.8" y2="1460.6" stroke="#000" stroke-width="1.2"/>
<circle cx="1969.7" cy="1165.1" r="3.15" fill="#000"/>
<circle cx="1969.7" cy="1202.4" r="3.15" fill="#000"/>
<circle cx="1969.7" cy="1351.5" r="3.15" fill="#000"/>
<circle cx="1953.6" cy="1436.8" r="2.45" fill="#fff" stroke="#000" stroke-width="1.4"/>
<circle cx="1953.6" cy="1447.4" r="2.45" fill="#fff" stroke="#000" stroke-width="1.4"/>
<circle cx="1953.6" cy="1468.7" r="2.45" fill="#fff" stroke="#000" stroke-width="1.4"/>
<circle cx="1953.6" cy="1474.0" r="2.45" fill="#fff" stroke="#000" stroke-width="1.4"/>
<circle cx="1953.6" cy="1479.4" r="2.45" fill="#fff" stroke="#000" stroke-width="1.4"/>
<circle cx="1953.6" cy="1484.7" r="2.45" fill="#fff" stroke="#000" stroke-width="1.4"/>
<text x="1824.2" y="1143.2" font-size="25" text-anchor="middle" stroke="#111" stroke-width="0.7">*</text>
<text x="1872.9" y="1143.2" font-size="25" text-anchor="middle" stroke="#111" stroke-width="0.7">*</text>
<text x="1921.7" y="1143.2" font-size="25" text-anchor="middle" stroke="#111" stroke-width="0.7">*</text>
<text x="1396.2" y="1510.7" font-size="20.7" text-anchor="middle">0.01</text>
<text x="1437.0" y="1510.7" font-size="20.7" text-anchor="middle">0.1</text>
<text x="1481.4" y="1510.7" font-size="20.7" text-anchor="middle">0.5</text>
<text x="1524.8" y="1510.7" font-size="20.7" text-anchor="middle">1</text>
<text x="1574.8" y="1510.7" font-size="20.7" text-anchor="middle">5</text>
<text x="1617.9" y="1510.7" font-size="20.7" text-anchor="middle">10</text>
<text x="1693.4" y="1510.7" font-size="20.7" text-anchor="middle">0.01</text>
<text x="1734.4" y="1510.7" font-size="20.7" text-anchor="middle">0.1</text>
<text x="1779.1" y="1510.7" font-size="20.7" text-anchor="middle">0.5</text>
<text x="1862.9" y="1510.7" font-size="20.7" text-anchor="middle">1</text>
<text x="1912.6" y="1510.7" font-size="20.7" text-anchor="middle">5</text>
<text x="1955.3" y="1510.7" font-size="20.7" text-anchor="middle">10</text>
<text x="1356.5" y="1534.8" font-size="20.7" font-style="italic">N</text>
<text x="1393.5" y="1534.8" font-size="20.7" text-anchor="middle">10</text>
<text x="1439.3" y="1534.8" font-size="20.7" text-anchor="middle">10</text>
<text x="1483.7" y="1534.8" font-size="20.7" text-anchor="middle">9</text>
<text x="1532.1" y="1534.8" font-size="20.7" text-anchor="middle">14</text>
<text x="1581.2" y="1534.8" font-size="20.7" text-anchor="middle">8</text>
<text x="1629.9" y="1534.8" font-size="20.7" text-anchor="middle">11</text>
<text x="1696.7" y="1534.8" font-size="20.7" text-anchor="middle">10</text>
<text x="1762.8" y="1534.8" font-size="20.7" text-anchor="middle">10</text>
<text x="1807.5" y="1534.8" font-size="20.7" text-anchor="middle">8</text>
<text x="1855.5" y="1534.8" font-size="20.7" text-anchor="middle">14</text>
<text x="1905.3" y="1534.8" font-size="20.7" text-anchor="middle">9</text>
<text x="1947.6" y="1534.8" font-size="20.7" text-anchor="middle">9</text>
<text x="1676.3" y="1571.2" font-size="20.7" text-anchor="middle">Haloperidol (mg/kg)</text>
</svg>
</body></html>
